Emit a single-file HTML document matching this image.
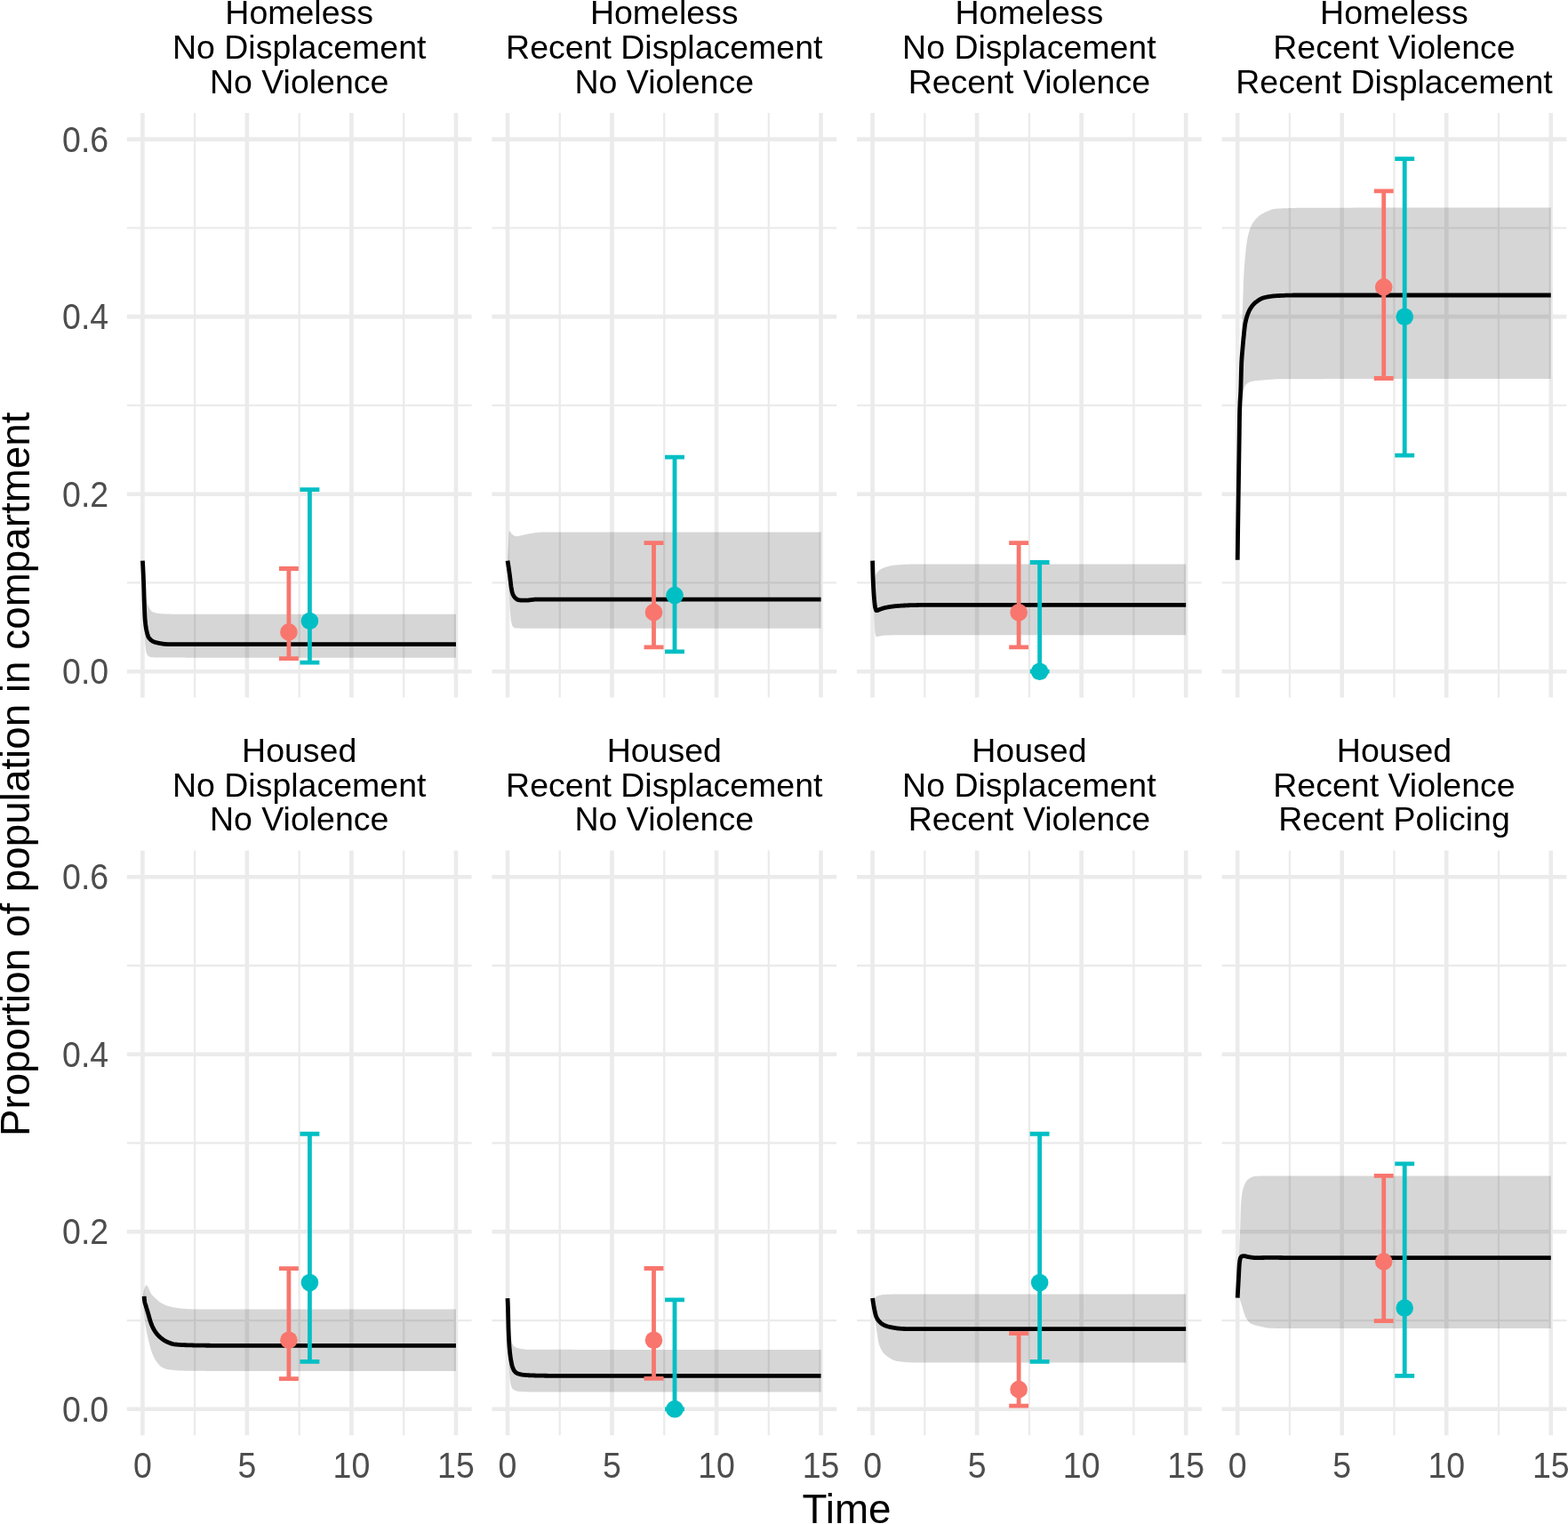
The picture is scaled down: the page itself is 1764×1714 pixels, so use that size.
<!DOCTYPE html>
<html><head><meta charset="utf-8"><style>
html,body{margin:0;padding:0;background:#fff;overflow:hidden;}
svg{display:block;}
text{font-family:"Liberation Sans",Arial,sans-serif;}
.s{font-size:37.5px;fill:#000;}
.a{font-size:37.5px;fill:#4D4D4D;}
.t{font-size:45.8px;fill:#000;}
</style></head><body>
<svg width="1764" height="1714" viewBox="0 0 1764 1714">
<rect x="0" y="0" width="1764" height="1714" fill="#ffffff"/>
<line x1="142.77" y1="655.44" x2="530.58" y2="655.44" stroke="#EBEBEB" stroke-width="2.3"/>
<line x1="142.77" y1="455.92" x2="530.58" y2="455.92" stroke="#EBEBEB" stroke-width="2.3"/>
<line x1="142.77" y1="256.4" x2="530.58" y2="256.4" stroke="#EBEBEB" stroke-width="2.3"/>
<line x1="219.16" y1="126.9" x2="219.16" y2="784.6" stroke="#EBEBEB" stroke-width="2.3"/>
<line x1="336.67" y1="126.9" x2="336.67" y2="784.6" stroke="#EBEBEB" stroke-width="2.3"/>
<line x1="454.19" y1="126.9" x2="454.19" y2="784.6" stroke="#EBEBEB" stroke-width="2.3"/>
<line x1="142.77" y1="755.2" x2="530.58" y2="755.2" stroke="#EBEBEB" stroke-width="4.6"/>
<line x1="142.77" y1="555.68" x2="530.58" y2="555.68" stroke="#EBEBEB" stroke-width="4.6"/>
<line x1="142.77" y1="356.16" x2="530.58" y2="356.16" stroke="#EBEBEB" stroke-width="4.6"/>
<line x1="142.77" y1="156.64" x2="530.58" y2="156.64" stroke="#EBEBEB" stroke-width="4.6"/>
<line x1="160.4" y1="126.9" x2="160.4" y2="784.6" stroke="#EBEBEB" stroke-width="4.6"/>
<line x1="277.92" y1="126.9" x2="277.92" y2="784.6" stroke="#EBEBEB" stroke-width="4.6"/>
<line x1="395.43" y1="126.9" x2="395.43" y2="784.6" stroke="#EBEBEB" stroke-width="4.6"/>
<line x1="512.95" y1="126.9" x2="512.95" y2="784.6" stroke="#EBEBEB" stroke-width="4.6"/>
<polygon points="160.4,630.6 160.65,633.73 160.9,636.82 161.16,639.89 161.41,642.92 161.6,645.2 161.66,645.92 161.91,648.93 162.09,651.1 162.16,651.93 162.42,654.88 162.67,657.72 162.9,660.2 162.92,660.42 163.17,663.14 163.43,665.87 163.68,668.4 163.79,669.41 163.93,670.51 164.1,671.6 164.18,672.04 164.43,673.31 164.69,674.5 164.94,675.59 165.19,676.6 165.44,677.52 165.48,677.67 165.69,678.37 165.95,679.16 166.2,679.87 166.45,680.53 166.7,681.14 166.95,681.7 167.18,682.16 167.2,682.2 167.21,682.21 167.46,682.71 167.71,683.19 167.96,683.66 168.22,684.11 168.47,684.55 168.72,684.97 168.87,685.23 168.97,685.38 169.22,685.77 169.48,686.13 169.73,686.47 169.98,686.79 170.23,687.08 170.48,687.35 170.57,687.43 170.74,687.58 170.99,687.79 171.24,687.97 171.49,688.11 171.7,688.2 171.74,688.22 172,688.31 172.25,688.4 172.26,688.41 172.5,688.49 172.75,688.58 173.01,688.67 173.26,688.75 173.51,688.83 173.76,688.91 173.96,688.97 174.01,688.98 174.27,689.05 174.52,689.12 174.77,689.19 175.02,689.26 175.27,689.32 175.53,689.38 175.65,689.41 175.78,689.44 176.03,689.5 176.28,689.56 176.53,689.61 176.79,689.66 177.04,689.71 177.29,689.75 177.35,689.76 177.54,689.8 177.79,689.84 178.05,689.88 178.3,689.92 178.55,689.96 178.8,689.99 179.04,690.03 179.06,690.03 179.31,690.06 179.56,690.09 179.81,690.12 180.06,690.14 180.32,690.17 180.57,690.19 180.74,690.2 180.82,690.21 181.07,690.23 181.32,690.25 181.58,690.26 181.83,690.28 182.08,690.29 182.3,690.3 182.33,690.3 182.43,690.31 182.58,690.31 182.84,690.32 183.09,690.33 183.34,690.34 183.59,690.35 183.85,690.36 184.1,690.37 184.13,690.38 184.35,690.38 184.6,690.39 184.85,690.4 185.11,690.41 185.36,690.42 185.58,690.43 185.61,690.43 185.82,690.44 185.86,690.44 186.11,690.45 186.37,690.46 186.62,690.47 186.87,690.48 187.12,690.49 187.37,690.5 187.52,690.5 187.63,690.5 187.88,690.51 188.13,690.52 188.38,690.53 188.64,690.54 188.89,690.54 189.14,690.55 189.21,690.55 189.39,690.56 189.64,690.57 189.9,690.57 190.15,690.58 190.4,690.59 190.91,690.6 192.6,690.65 194.3,690.68 195.99,690.72 197.69,690.74 199.38,690.77 201.08,690.78 202.77,690.79 204.47,690.8 205.4,690.8 206.16,690.8 207.86,690.8 209.55,690.8 210.76,690.8 211.25,690.8 212.94,690.8 214.64,690.8 216.33,690.8 218.03,690.8 219.72,690.8 221.42,690.8 223.11,690.8 224.81,690.8 226.5,690.8 228.2,690.8 229.89,690.8 231.59,690.8 233.28,690.8 234.98,690.8 235.95,690.8 236.67,690.8 238.37,690.8 240.06,690.8 241.76,690.8 243.45,690.8 245.15,690.8 246.84,690.8 248.54,690.8 250.23,690.8 251.93,690.8 253.62,690.8 255.32,690.8 257.01,690.8 258.71,690.8 260.4,690.8 261.13,690.8 286.31,690.8 311.49,690.8 336.68,690.8 361.86,690.8 387.04,690.8 412.22,690.8 437.4,690.8 462.59,690.8 487.77,690.8 512.95,690.8 512.95,739.7 487.77,739.7 462.59,739.7 437.4,739.7 412.22,739.7 387.04,739.69 361.86,739.69 336.68,739.68 311.49,739.68 286.31,739.67 261.13,739.66 260.4,739.66 258.71,739.66 257.01,739.65 255.32,739.65 253.62,739.65 251.93,739.65 250.23,739.65 248.54,739.65 246.84,739.65 245.15,739.65 243.45,739.65 241.76,739.65 240.06,739.65 238.37,739.64 236.67,739.64 235.95,739.64 234.98,739.64 233.28,739.64 231.59,739.64 229.89,739.64 228.2,739.64 226.5,739.64 224.81,739.64 223.11,739.64 221.42,739.63 219.72,739.63 218.03,739.63 216.33,739.63 214.64,739.63 212.94,739.63 211.25,739.63 210.76,739.63 209.55,739.63 207.86,739.62 206.16,739.62 204.47,739.62 202.77,739.62 201.08,739.62 199.38,739.62 197.69,739.62 195.99,739.62 194.3,739.61 192.6,739.61 190.91,739.61 190.4,739.61 190.15,739.61 189.9,739.61 189.64,739.61 189.39,739.61 189.21,739.61 189.14,739.61 188.89,739.61 188.64,739.61 188.38,739.61 188.13,739.61 187.88,739.61 187.63,739.61 187.52,739.61 187.37,739.61 187.12,739.61 186.87,739.61 186.62,739.61 186.37,739.61 186.11,739.61 185.86,739.61 185.82,739.61 185.61,739.61 185.58,739.61 185.36,739.61 185.11,739.61 184.85,739.61 184.6,739.61 184.35,739.61 184.13,739.61 184.1,739.61 183.85,739.61 183.59,739.61 183.34,739.61 183.09,739.61 182.84,739.61 182.58,739.61 182.43,739.61 182.33,739.61 182.08,739.6 181.83,739.6 181.58,739.6 181.32,739.6 181.07,739.6 180.82,739.6 180.74,739.6 180.57,739.6 180.32,739.6 180.06,739.6 179.81,739.6 179.56,739.6 179.31,739.6 179.06,739.6 179.04,739.6 178.8,739.6 178.55,739.6 178.3,739.6 178.05,739.6 177.79,739.6 177.54,739.6 177.35,739.6 177.29,739.6 177.04,739.6 176.79,739.6 176.53,739.6 176.4,739.6 176.28,739.6 176.03,739.6 175.78,739.59 175.65,739.59 175.53,739.59 175.27,739.58 175.02,739.57 174.77,739.56 174.52,739.55 174.27,739.54 174.01,739.52 173.96,739.52 173.76,739.5 173.51,739.48 173.26,739.46 173.01,739.44 172.75,739.42 172.5,739.39 172.26,739.36 172.25,739.36 172,739.33 171.74,739.3 171.49,739.27 171.24,739.23 170.99,739.19 170.74,739.15 170.57,739.13 170.48,739.11 170.23,739.07 169.98,739.02 169.73,738.98 169.48,738.93 169.22,738.88 168.97,738.83 168.87,738.81 168.72,738.77 168.47,738.72 168.4,738.7 168.22,738.65 167.96,738.56 167.71,738.43 167.46,738.27 167.21,738.09 167.18,738.06 166.95,737.87 166.7,737.61 166.45,737.33 166.2,737.01 165.95,736.65 165.69,736.26 165.48,735.91 165.44,735.83 165.19,735.37 165,735 164.94,734.87 164.69,734.15 164.43,733.14 164.18,731.8 163.93,730.13 163.79,729.06 163.68,728.11 163.43,725.7 163.17,722.89 163.1,722 162.92,718.34 162.67,709.94 162.42,700.76 162.4,700.2 162.16,692.25 162.09,689.83 161.91,683.39 161.66,674.4 161.41,665.49 161.4,665.2 161.16,656.73 160.9,648 160.65,639.29 160.4,630.6" fill="#333333" fill-opacity="0.2"/>
<polyline points="160.4,630.6 160.65,634.46 160.9,639.16 161.16,644.55 161.41,650.5 161.66,656.87 161.7,657.9 161.91,664.45 162.09,670.91 162.16,673.37 162.4,680.7 162.42,681.14 162.67,687.57 162.92,693.08 163.1,695.9 163.17,696.79 163.43,699.56 163.68,701.9 163.79,702.82 163.93,703.88 164.18,705.54 164.43,706.96 164.5,707.3 164.69,708.22 164.94,709.41 165.19,710.55 165.44,711.62 165.48,711.79 165.69,712.61 165.95,713.53 166.2,714.37 166.45,715.12 166.7,715.79 166.95,716.35 167.18,716.77 167.21,716.82 167.4,717.1 167.46,717.18 167.71,717.5 167.96,717.8 168.22,718.1 168.47,718.38 168.72,718.66 168.87,718.82 168.97,718.92 169.22,719.17 169.48,719.41 169.73,719.64 169.98,719.86 170.23,720.07 170.48,720.27 170.57,720.33 170.74,720.46 170.99,720.64 171.24,720.81 171.49,720.97 171.74,721.13 172,721.27 172.25,721.41 172.26,721.42 172.5,721.54 172.75,721.66 173.01,721.78 173.26,721.89 173.51,721.99 173.76,722.08 173.96,722.15 174.01,722.17 174.27,722.25 174.52,722.32 174.77,722.39 174.8,722.4 175.02,722.46 175.27,722.52 175.53,722.59 175.65,722.62 175.78,722.65 176.03,722.71 176.28,722.77 176.53,722.83 176.79,722.89 177.04,722.95 177.29,723.01 177.35,723.02 177.54,723.07 177.79,723.12 178.05,723.18 178.3,723.23 178.55,723.29 178.8,723.34 179.04,723.39 179.06,723.39 179.31,723.44 179.56,723.49 179.81,723.54 180.06,723.59 180.32,723.63 180.57,723.68 180.74,723.71 180.82,723.72 181.07,723.77 181.32,723.81 181.58,723.85 181.83,723.89 182.08,723.93 182.33,723.97 182.43,723.99 182.58,724.01 182.84,724.05 183.09,724.08 183.34,724.12 183.59,724.15 183.85,724.18 184.1,724.21 184.13,724.22 184.35,724.24 184.6,724.27 184.85,724.3 185.11,724.33 185.36,724.35 185.58,724.37 185.61,724.37 185.82,724.39 185.86,724.4 186.11,724.42 186.37,724.44 186.62,724.46 186.87,724.48 187.12,724.49 187.37,724.51 187.52,724.52 187.63,724.53 187.88,724.54 188.13,724.55 188.38,724.56 188.64,724.57 188.89,724.58 189.14,724.59 189.21,724.59 189.39,724.59 189.64,724.6 189.9,724.6 190,724.6 190.15,724.6 190.4,724.6 190.91,724.61 192.6,724.62 194.3,724.63 195.99,724.64 197.69,724.65 199.38,724.65 201.08,724.66 202.77,724.67 204.47,724.67 206.16,724.68 207.86,724.68 209.55,724.69 210.76,724.69 211.25,724.69 212.94,724.69 214.64,724.7 216.33,724.7 218.03,724.7 219.72,724.7 220.4,724.7 221.42,724.7 223.11,724.7 224.81,724.7 226.5,724.7 228.2,724.7 229.89,724.7 231.59,724.7 233.28,724.7 234.98,724.7 235.95,724.7 236.67,724.7 238.37,724.7 240.06,724.7 241.76,724.7 243.45,724.7 245.15,724.7 246.84,724.7 248.54,724.7 250.23,724.7 251.93,724.7 253.62,724.7 255.32,724.7 257.01,724.7 258.71,724.7 260.4,724.7 261.13,724.7 286.31,724.7 311.49,724.7 336.68,724.7 361.86,724.7 387.04,724.7 412.22,724.7 437.4,724.7 462.59,724.7 487.77,724.7 512.95,724.7" fill="none" stroke="#000" stroke-width="4.8" stroke-linejoin="round"/>
<path d="M313.97,639.48H335.87M324.92,639.48V740.64M313.97,740.64H335.87" stroke="#F8766D" stroke-width="4.8" fill="none"/>
<path d="M337.47,550.69H359.37M348.42,550.69V745.22M337.47,745.22H359.37" stroke="#00BFC4" stroke-width="4.8" fill="none"/>
<circle cx="324.92" cy="710.91" r="9.8" fill="#F8766D"/>
<circle cx="348.42" cy="698.44" r="9.8" fill="#00BFC4"/>
<line x1="553.37" y1="655.44" x2="941.18" y2="655.44" stroke="#EBEBEB" stroke-width="2.3"/>
<line x1="553.37" y1="455.92" x2="941.18" y2="455.92" stroke="#EBEBEB" stroke-width="2.3"/>
<line x1="553.37" y1="256.4" x2="941.18" y2="256.4" stroke="#EBEBEB" stroke-width="2.3"/>
<line x1="629.76" y1="126.9" x2="629.76" y2="784.6" stroke="#EBEBEB" stroke-width="2.3"/>
<line x1="747.27" y1="126.9" x2="747.27" y2="784.6" stroke="#EBEBEB" stroke-width="2.3"/>
<line x1="864.79" y1="126.9" x2="864.79" y2="784.6" stroke="#EBEBEB" stroke-width="2.3"/>
<line x1="553.37" y1="755.2" x2="941.18" y2="755.2" stroke="#EBEBEB" stroke-width="4.6"/>
<line x1="553.37" y1="555.68" x2="941.18" y2="555.68" stroke="#EBEBEB" stroke-width="4.6"/>
<line x1="553.37" y1="356.16" x2="941.18" y2="356.16" stroke="#EBEBEB" stroke-width="4.6"/>
<line x1="553.37" y1="156.64" x2="941.18" y2="156.64" stroke="#EBEBEB" stroke-width="4.6"/>
<line x1="571" y1="126.9" x2="571" y2="784.6" stroke="#EBEBEB" stroke-width="4.6"/>
<line x1="688.51" y1="126.9" x2="688.51" y2="784.6" stroke="#EBEBEB" stroke-width="4.6"/>
<line x1="806.03" y1="126.9" x2="806.03" y2="784.6" stroke="#EBEBEB" stroke-width="4.6"/>
<line x1="923.55" y1="126.9" x2="923.55" y2="784.6" stroke="#EBEBEB" stroke-width="4.6"/>
<polygon points="571,630.6 571.25,625.44 571.5,620.49 571.76,615.77 571.9,613.2 572.01,611.16 572.26,605.84 572.51,600.86 572.69,598.27 572.76,597.63 572.9,597.1 573.02,597.11 573.27,597.21 573.52,597.4 573.77,597.66 574.03,597.98 574.28,598.34 574.39,598.51 574.53,598.73 574.78,599.12 575.03,599.52 575.29,599.89 575.54,600.23 575.79,600.51 576,600.7 576.04,600.73 576.08,600.77 576.29,600.93 576.55,601.13 576.8,601.32 577.05,601.52 577.3,601.71 577.55,601.9 577.78,602.06 577.81,602.08 578.06,602.26 578.31,602.42 578.56,602.57 578.82,602.71 579.07,602.84 579.32,602.95 579.47,603.01 579.57,603.04 579.82,603.11 580.08,603.17 580.33,603.19 580.5,603.2 580.58,603.2 580.83,603.2 581.08,603.19 581.17,603.18 581.34,603.17 581.59,603.15 581.84,603.13 582.09,603.11 582.34,603.08 582.6,603.04 582.85,603 582.86,603 583.1,602.96 583.35,602.92 583.61,602.87 583.86,602.82 584.11,602.77 584.36,602.72 584.56,602.67 584.61,602.66 584.87,602.6 585.12,602.55 585.37,602.48 585.62,602.42 585.87,602.36 586.13,602.3 586.25,602.26 586.38,602.23 586.63,602.17 586.88,602.1 587.13,602.04 587.39,601.97 587.64,601.91 587.89,601.84 587.95,601.83 588.14,601.78 588.39,601.72 588.65,601.66 588.9,601.6 589.15,601.54 589.4,601.48 589.64,601.43 589.66,601.43 589.91,601.38 590.16,601.33 590.3,601.3 590.41,601.28 590.66,601.23 590.92,601.18 591.17,601.14 591.34,601.1 591.42,601.09 591.67,601.04 591.92,600.99 592.18,600.94 592.43,600.89 592.68,600.84 592.93,600.79 593.03,600.77 593.18,600.74 593.44,600.7 593.69,600.65 593.94,600.6 594.19,600.55 594.45,600.5 594.7,600.45 594.73,600.44 594.95,600.4 595.2,600.35 595.45,600.3 595.71,600.26 595.96,600.21 596.18,600.17 596.21,600.16 596.42,600.12 596.46,600.12 596.71,600.07 596.97,600.02 597.22,599.98 597.47,599.93 597.72,599.89 597.97,599.85 598.12,599.82 598.23,599.81 598.48,599.76 598.73,599.72 598.98,599.68 599.24,599.64 599.49,599.61 599.74,599.57 599.81,599.56 599.99,599.53 600.24,599.5 600.5,599.46 600.75,599.43 601,599.4 601.51,599.34 603.2,599.11 604.9,598.9 606.59,598.73 608.29,598.62 609.3,598.6 609.98,598.6 611.68,598.6 613.37,598.6 615.07,598.6 616.76,598.6 618.46,598.6 620.15,598.6 621.36,598.6 621.85,598.6 623.54,598.6 625.24,598.6 626.93,598.6 628.63,598.6 630.32,598.6 632.02,598.6 633.71,598.6 635.41,598.6 637.1,598.6 638.8,598.6 640.49,598.6 642.19,598.6 643.88,598.6 645.58,598.6 646.55,598.6 647.27,598.6 648.97,598.6 650.66,598.6 652.36,598.6 654.05,598.6 655.75,598.6 657.44,598.6 659.14,598.6 660.83,598.6 662.53,598.6 664.22,598.6 665.92,598.6 667.61,598.6 669.31,598.6 671,598.6 671.73,598.6 696.91,598.6 722.09,598.6 747.27,598.6 772.46,598.6 797.64,598.6 822.82,598.6 848,598.6 873.19,598.6 898.37,598.6 923.55,598.6 923.55,706.8 898.37,706.8 873.19,706.8 848,706.8 822.82,706.8 797.64,706.8 772.46,706.8 747.27,706.8 722.09,706.8 696.91,706.8 671.73,706.8 671,706.8 669.31,706.8 667.61,706.8 665.92,706.8 664.22,706.8 662.53,706.8 660.83,706.8 659.14,706.8 657.44,706.8 655.75,706.8 654.05,706.8 652.36,706.8 650.66,706.8 648.97,706.8 647.27,706.8 646.55,706.8 645.58,706.8 643.88,706.8 642.19,706.8 640.49,706.8 638.8,706.8 637.1,706.8 635.41,706.8 633.71,706.8 632.02,706.8 630.32,706.8 628.63,706.8 626.93,706.8 625.24,706.8 623.54,706.8 621.85,706.8 621.36,706.8 620.15,706.8 618.46,706.8 616.76,706.8 615.07,706.8 613.37,706.8 611.68,706.8 609.98,706.8 608.29,706.8 606.59,706.8 604.9,706.8 603.2,706.8 601.51,706.8 601,706.8 600.75,706.8 600.5,706.8 600.24,706.8 599.99,706.8 599.81,706.8 599.74,706.8 599.49,706.8 599.24,706.8 598.98,706.8 598.73,706.8 598.48,706.8 598.23,706.8 598.12,706.8 597.97,706.8 597.72,706.79 597.47,706.79 597.22,706.79 596.97,706.79 596.71,706.79 596.46,706.79 596.42,706.79 596.21,706.79 596.18,706.79 595.96,706.79 595.71,706.79 595.45,706.78 595.2,706.78 594.95,706.78 594.73,706.78 594.7,706.78 594.45,706.78 594.19,706.78 593.94,706.77 593.69,706.77 593.44,706.77 593.18,706.77 593.03,706.77 592.93,706.76 592.68,706.76 592.43,706.76 592.18,706.76 591.92,706.75 591.67,706.75 591.42,706.75 591.34,706.75 591.17,706.74 590.92,706.74 590.66,706.74 590.41,706.73 590.16,706.73 589.91,706.73 589.66,706.72 589.64,706.72 589.4,706.72 589.15,706.71 588.9,706.71 588.65,706.7 588.39,706.7 588.14,706.7 587.95,706.69 587.89,706.69 587.64,706.69 587.39,706.68 587.13,706.68 586.88,706.67 586.63,706.66 586.38,706.66 586.25,706.66 586.13,706.65 585.87,706.65 585.62,706.64 585.37,706.63 585.12,706.63 584.87,706.62 584.61,706.61 584.56,706.61 584.36,706.61 584.11,706.6 583.86,706.59 583.61,706.59 583.35,706.58 583.1,706.57 582.86,706.56 582.85,706.56 582.6,706.55 582.34,706.55 582.09,706.54 581.84,706.53 581.59,706.52 581.34,706.51 581.17,706.51 581.08,706.5 581,706.5 580.83,706.49 580.58,706.47 580.33,706.43 580.08,706.38 579.82,706.31 579.57,706.24 579.47,706.2 579.32,706.14 579.07,706.04 578.82,705.92 578.56,705.79 578.31,705.65 578.06,705.5 577.81,705.33 577.78,705.31 577.55,705.15 577.3,704.95 577.05,704.74 577,704.7 576.8,704.48 576.55,704.05 576.29,703.48 576.08,702.88 576.04,702.75 575.79,701.88 575.54,700.88 575.29,699.74 575.03,698.48 574.8,697.2 574.78,697.09 574.53,695.08 574.39,693.58 574.28,692.2 574.03,688.68 573.77,684.72 573.52,680.55 573.5,680.2 573.27,675.73 573.02,669.82 572.76,663.4 572.69,661.61 572.51,657.06 572.26,651.39 572.2,650.2 572.01,646.62 571.76,642.13 571.5,637.95 571.25,634.09 571,630.6" fill="#333333" fill-opacity="0.2"/>
<polyline points="571,630.6 571.25,632.09 571.5,633.62 571.76,635.2 572.01,636.82 572.26,638.48 572.51,640.18 572.69,641.43 572.76,641.91 573.02,643.68 573.27,645.48 573.3,645.7 573.52,647.38 573.77,649.46 574.03,651.64 574.28,653.84 574.39,654.81 574.53,655.98 574.78,657.99 575.03,659.78 575.2,660.8 575.29,661.29 575.54,662.67 575.79,663.96 576.04,665.14 576.08,665.32 576.29,666.17 576.55,667.04 576.6,667.2 576.8,667.76 577.05,668.4 577.3,668.98 577.55,669.5 577.78,669.91 577.81,669.96 578.06,670.38 578.2,670.6 578.31,670.76 578.56,671.12 578.82,671.46 579.07,671.77 579.32,672.06 579.47,672.24 579.57,672.34 579.82,672.59 580.08,672.83 580.33,673.06 580.5,673.2 580.58,673.27 580.83,673.47 581.08,673.68 581.17,673.74 581.34,673.87 581.59,674.06 581.84,674.22 582.09,674.37 582.34,674.49 582.6,674.57 582.7,674.6 582.85,674.63 582.86,674.63 583.1,674.68 583.35,674.73 583.61,674.78 583.86,674.82 584.11,674.86 584.36,674.9 584.56,674.93 584.61,674.93 584.87,674.97 585.12,674.99 585.37,675.02 585.62,675.04 585.87,675.06 586.13,675.08 586.25,675.08 586.38,675.09 586.63,675.1 586.88,675.1 587,675.1 587.13,675.1 587.39,675.1 587.64,675.1 587.89,675.1 587.95,675.1 588.14,675.1 588.39,675.1 588.65,675.1 588.9,675.1 589.15,675.1 589.4,675.1 589.64,675.1 589.66,675.1 589.91,675.1 590.16,675.1 590.41,675.1 590.66,675.1 590.92,675.1 591.17,675.1 591.34,675.1 591.42,675.1 591.67,675.1 591.92,675.1 592.18,675.1 592.43,675.1 592.68,675.1 592.93,675.1 593,675.1 593.03,675.1 593.18,675.1 593.44,675.09 593.69,675.08 593.94,675.07 594.19,675.05 594.45,675.03 594.7,675 594.73,675 594.95,674.98 595.2,674.95 595.45,674.92 595.71,674.89 595.96,674.85 596.18,674.82 596.21,674.82 596.42,674.79 596.46,674.79 596.71,674.75 596.97,674.72 597.22,674.69 597.47,674.66 597.72,674.63 597.97,674.6 598,674.6 598.12,674.59 598.23,674.58 598.48,674.55 598.73,674.52 598.98,674.49 599.24,674.45 599.49,674.42 599.74,674.39 599.81,674.38 599.99,674.35 600.24,674.32 600.5,674.29 600.75,674.26 601,674.23 601.51,674.18 603,674.1 603.2,674.1 604.9,674.1 606.59,674.1 608.29,674.1 609.98,674.1 611.68,674.1 613.37,674.1 615.07,674.1 616.76,674.1 618.46,674.1 620.15,674.1 621.36,674.1 621.85,674.1 623.54,674.1 625.24,674.1 626.93,674.1 628.63,674.1 630.32,674.1 632.02,674.1 633.71,674.1 635.41,674.1 637.1,674.1 638.8,674.1 640.49,674.1 642.19,674.1 643.88,674.1 645.58,674.1 646.55,674.1 647.27,674.1 648.97,674.1 650.66,674.1 652.36,674.1 654.05,674.1 655.75,674.1 657.44,674.1 659.14,674.1 660.83,674.1 662.53,674.1 664.22,674.1 665.92,674.1 667.61,674.1 669.31,674.1 671,674.1 671.73,674.1 696.91,674.1 722.09,674.1 747.27,674.1 772.46,674.1 797.64,674.1 822.82,674.1 848,674.1 873.19,674.1 898.37,674.1 923.55,674.1" fill="none" stroke="#000" stroke-width="4.8" stroke-linejoin="round"/>
<path d="M724.57,610.55H746.47M735.52,610.55V727.87M724.57,727.87H746.47" stroke="#F8766D" stroke-width="4.8" fill="none"/>
<path d="M748.07,514.08H769.97M759.02,514.08V732.85M748.07,732.85H769.97" stroke="#00BFC4" stroke-width="4.8" fill="none"/>
<circle cx="735.52" cy="688.66" r="9.8" fill="#F8766D"/>
<circle cx="759.02" cy="669.61" r="9.8" fill="#00BFC4"/>
<line x1="963.97" y1="655.44" x2="1351.78" y2="655.44" stroke="#EBEBEB" stroke-width="2.3"/>
<line x1="963.97" y1="455.92" x2="1351.78" y2="455.92" stroke="#EBEBEB" stroke-width="2.3"/>
<line x1="963.97" y1="256.4" x2="1351.78" y2="256.4" stroke="#EBEBEB" stroke-width="2.3"/>
<line x1="1040.36" y1="126.9" x2="1040.36" y2="784.6" stroke="#EBEBEB" stroke-width="2.3"/>
<line x1="1157.87" y1="126.9" x2="1157.87" y2="784.6" stroke="#EBEBEB" stroke-width="2.3"/>
<line x1="1275.39" y1="126.9" x2="1275.39" y2="784.6" stroke="#EBEBEB" stroke-width="2.3"/>
<line x1="963.97" y1="755.2" x2="1351.78" y2="755.2" stroke="#EBEBEB" stroke-width="4.6"/>
<line x1="963.97" y1="555.68" x2="1351.78" y2="555.68" stroke="#EBEBEB" stroke-width="4.6"/>
<line x1="963.97" y1="356.16" x2="1351.78" y2="356.16" stroke="#EBEBEB" stroke-width="4.6"/>
<line x1="963.97" y1="156.64" x2="1351.78" y2="156.64" stroke="#EBEBEB" stroke-width="4.6"/>
<line x1="981.6" y1="126.9" x2="981.6" y2="784.6" stroke="#EBEBEB" stroke-width="4.6"/>
<line x1="1099.12" y1="126.9" x2="1099.12" y2="784.6" stroke="#EBEBEB" stroke-width="4.6"/>
<line x1="1216.63" y1="126.9" x2="1216.63" y2="784.6" stroke="#EBEBEB" stroke-width="4.6"/>
<line x1="1334.14" y1="126.9" x2="1334.14" y2="784.6" stroke="#EBEBEB" stroke-width="4.6"/>
<polygon points="981.6,630.6 981.85,634.39 982.1,638.01 982.36,641.35 982.61,644.3 982.86,646.77 983.11,648.64 983.29,649.57 983.36,649.82 983.6,650.2 983.62,650.2 983.87,650.06 984.12,649.7 984.37,649.17 984.63,648.53 984.88,647.81 984.99,647.48 985.13,647.07 985.38,646.35 985.63,645.71 985.89,645.19 986,645 986.14,644.8 986.39,644.45 986.64,644.11 986.68,644.05 986.89,643.78 987.15,643.47 987.4,643.17 987.65,642.88 987.9,642.6 988.15,642.34 988.38,642.12 988.41,642.09 988.66,641.85 988.91,641.62 989.16,641.41 989.42,641.2 989.67,641.01 989.92,640.82 990.07,640.72 990.1,640.7 990.17,640.65 990.42,640.49 990.68,640.32 990.93,640.17 991.18,640.01 991.43,639.87 991.68,639.72 991.77,639.67 991.94,639.58 992.19,639.45 992.44,639.32 992.69,639.19 992.94,639.07 993.2,638.95 993.45,638.84 993.46,638.83 993.7,638.73 993.95,638.62 994.21,638.52 994.46,638.42 994.71,638.33 994.96,638.24 995.16,638.17 995.21,638.15 995.47,638.07 995.7,638 995.72,637.99 995.97,637.92 996.22,637.84 996.47,637.77 996.73,637.7 996.85,637.66 996.98,637.62 997.23,637.55 997.48,637.48 997.73,637.41 997.99,637.34 998.24,637.27 998.49,637.2 998.55,637.19 998.74,637.14 998.99,637.07 999.25,637.01 999.5,636.94 999.75,636.88 1000,636.82 1000.24,636.76 1000.26,636.75 1000.51,636.69 1000.76,636.64 1001.01,636.58 1001.26,636.52 1001.52,636.46 1001.77,636.41 1001.94,636.37 1002.02,636.35 1002.27,636.3 1002.52,636.25 1002.78,636.2 1003.03,636.15 1003.28,636.1 1003.53,636.05 1003.63,636.04 1003.78,636.01 1004.04,635.96 1004.29,635.92 1004.54,635.88 1004.79,635.84 1005.05,635.8 1005.3,635.76 1005.33,635.76 1005.55,635.72 1005.8,635.69 1006.05,635.66 1006.31,635.62 1006.56,635.59 1006.78,635.56 1006.81,635.56 1007.02,635.54 1007.06,635.53 1007.31,635.51 1007.57,635.48 1007.82,635.46 1008.07,635.43 1008.32,635.41 1008.5,635.4 1008.57,635.39 1008.72,635.38 1008.83,635.38 1009.08,635.36 1009.33,635.34 1009.58,635.32 1009.84,635.3 1010.09,635.28 1010.34,635.27 1010.41,635.26 1010.59,635.25 1010.84,635.23 1011.1,635.21 1011.35,635.2 1011.6,635.18 1012.11,635.14 1013.8,635.04 1015.5,634.94 1017.19,634.85 1018.89,634.77 1020.58,634.71 1022.28,634.66 1023.97,634.62 1025.67,634.6 1026.6,634.6 1027.36,634.6 1029.06,634.6 1030.75,634.59 1031.96,634.59 1032.45,634.59 1034.14,634.59 1035.84,634.58 1037.53,634.58 1039.23,634.58 1040.92,634.58 1042.62,634.57 1044.31,634.57 1046.01,634.57 1047.7,634.56 1049.4,634.56 1051.09,634.56 1052.79,634.56 1054.48,634.55 1056.18,634.55 1057.15,634.55 1057.87,634.55 1059.57,634.55 1061.26,634.54 1062.96,634.54 1064.65,634.54 1066.35,634.54 1068.04,634.53 1069.74,634.53 1071.43,634.53 1073.13,634.53 1074.82,634.53 1076.52,634.52 1078.21,634.52 1079.91,634.52 1081.6,634.52 1082.33,634.52 1107.51,634.49 1132.69,634.46 1157.88,634.44 1183.06,634.43 1208.24,634.42 1233.42,634.41 1258.6,634.41 1283.79,634.4 1308.97,634.4 1334.15,634.4 1334.15,714.3 1308.97,714.3 1283.79,714.3 1258.6,714.3 1233.42,714.3 1208.24,714.3 1183.06,714.3 1157.88,714.3 1132.69,714.3 1107.51,714.3 1082.33,714.3 1081.6,714.3 1079.91,714.3 1078.21,714.3 1076.52,714.3 1074.82,714.3 1073.13,714.3 1071.43,714.3 1069.74,714.3 1068.04,714.3 1066.35,714.3 1064.65,714.3 1062.96,714.3 1061.26,714.3 1059.57,714.3 1057.87,714.3 1057.15,714.3 1056.18,714.3 1054.48,714.3 1052.79,714.3 1051.09,714.3 1049.4,714.3 1047.7,714.3 1046.01,714.3 1044.31,714.3 1042.62,714.3 1040.92,714.3 1039.23,714.3 1037.53,714.3 1035.84,714.3 1034.14,714.3 1032.45,714.3 1031.96,714.3 1030.75,714.3 1029.06,714.3 1027.36,714.3 1025.67,714.3 1023.97,714.3 1022.28,714.3 1020.58,714.3 1018.89,714.3 1017.19,714.3 1015.5,714.3 1013.8,714.3 1012.11,714.3 1011.6,714.3 1011.35,714.3 1011.1,714.3 1010.84,714.3 1010.59,714.3 1010.41,714.3 1010.34,714.3 1010.09,714.3 1009.84,714.3 1009.58,714.3 1009.33,714.31 1009.08,714.31 1008.83,714.31 1008.72,714.31 1008.57,714.31 1008.32,714.31 1008.07,714.31 1007.82,714.32 1007.57,714.32 1007.31,714.32 1007.06,714.32 1007.02,714.33 1006.81,714.33 1006.78,714.33 1006.56,714.33 1006.31,714.33 1006.05,714.34 1005.8,714.34 1005.55,714.34 1005.33,714.35 1005.3,714.35 1005.05,714.35 1004.79,714.36 1004.54,714.36 1004.29,714.36 1004.04,714.37 1003.78,714.37 1003.63,714.38 1003.53,714.38 1003.28,714.38 1003.03,714.39 1002.78,714.39 1002.52,714.4 1002.27,714.4 1002.02,714.41 1001.94,714.41 1001.77,714.41 1001.52,714.42 1001.26,714.43 1001.01,714.43 1000.76,714.44 1000.51,714.45 1000.26,714.45 1000.24,714.45 1000,714.46 999.75,714.47 999.5,714.47 999.25,714.48 998.99,714.49 998.74,714.5 998.55,714.5 998.49,714.5 998.24,714.51 997.99,714.52 997.73,714.53 997.48,714.53 997.23,714.54 996.98,714.55 996.85,714.56 996.73,714.56 996.47,714.57 996.22,714.58 995.97,714.59 995.72,714.6 995.6,714.6 995.47,714.61 995.21,714.62 995.16,714.62 994.96,714.63 994.71,714.65 994.46,714.68 994.21,714.7 993.95,714.73 993.7,714.76 993.46,714.79 993.45,714.8 993.2,714.83 992.94,714.87 992.69,714.91 992.44,714.95 992.19,714.99 991.94,715.03 991.77,715.06 991.68,715.07 991.43,715.12 991.18,715.16 990.93,715.21 990.68,715.25 990.42,715.3 990.17,715.34 990.07,715.36 989.92,715.38 989.67,715.43 989.42,715.47 989.16,715.51 988.91,715.55 988.66,715.59 988.6,715.6 988.41,715.63 988.38,715.64 988.15,715.68 987.9,715.73 987.65,715.78 987.4,715.83 987.15,715.88 986.89,715.92 986.68,715.95 986.64,715.96 986.39,715.98 986.14,716 986,716 985.89,715.98 985.63,715.79 985.38,715.42 985.13,714.87 984.99,714.5 984.88,714.16 984.63,713.29 984.6,713.2 984.37,711.36 984.12,707.37 983.87,701.93 983.62,695.63 983.6,695.2 983.36,686.43 983.29,683.1 983.11,673.86 982.86,662.32 982.8,660.2 982.61,654.17 982.36,646.75 982.1,640.18 981.85,634.7 981.6,630.6" fill="#333333" fill-opacity="0.2"/>
<polyline points="981.6,630.6 981.85,640.89 982.1,649.53 982.2,652.1 982.36,655.72 982.61,660.84 982.86,665.2 983.11,668.9 983.29,671.24 983.3,671.3 983.36,672.08 983.62,675.04 983.87,677.77 984.12,680.14 984.37,682.02 984.6,683.2 984.63,683.3 984.88,684.26 984.99,684.67 985.13,685.13 985.38,685.86 985.63,686.39 985.89,686.67 986,686.7 986.14,686.7 986.39,686.67 986.64,686.62 986.68,686.61 986.89,686.56 987.15,686.47 987.4,686.38 987.65,686.27 987.9,686.15 988.15,686.03 988.38,685.93 988.41,685.91 988.66,685.79 988.91,685.68 989.16,685.57 989.42,685.47 989.6,685.4 989.67,685.38 989.92,685.29 990.07,685.24 990.17,685.21 990.42,685.12 990.68,685.03 990.93,684.94 991.18,684.86 991.43,684.77 991.68,684.68 991.77,684.65 991.94,684.59 992.19,684.51 992.44,684.42 992.69,684.34 992.94,684.26 993.2,684.18 993.45,684.1 993.46,684.09 993.7,684.02 993.95,683.94 994.21,683.87 994.46,683.8 994.71,683.73 994.96,683.67 995.16,683.62 995.21,683.61 995.47,683.55 995.7,683.5 995.72,683.5 995.97,683.44 996.22,683.39 996.47,683.34 996.73,683.29 996.85,683.26 996.98,683.24 997.23,683.19 997.48,683.14 997.73,683.09 997.99,683.04 998.24,683 998.49,682.95 998.55,682.94 998.74,682.9 998.99,682.86 999.25,682.81 999.5,682.77 999.75,682.72 1000,682.68 1000.24,682.64 1000.26,682.64 1000.51,682.59 1000.76,682.55 1001.01,682.51 1001.26,682.47 1001.52,682.43 1001.77,682.39 1001.94,682.37 1002.02,682.35 1002.27,682.32 1002.52,682.28 1002.78,682.24 1003.03,682.21 1003.28,682.17 1003.53,682.14 1003.63,682.12 1003.78,682.1 1004.04,682.07 1004.29,682.04 1004.54,682.01 1004.79,681.97 1005.05,681.94 1005.3,681.91 1005.33,681.91 1005.55,681.89 1005.8,681.86 1006.05,681.83 1006.31,681.8 1006.56,681.78 1006.78,681.75 1006.81,681.75 1007.02,681.73 1007.06,681.73 1007.31,681.7 1007.57,681.68 1007.82,681.66 1008.07,681.64 1008.32,681.61 1008.5,681.6 1008.57,681.59 1008.72,681.58 1008.83,681.57 1009.08,681.55 1009.33,681.53 1009.58,681.52 1009.84,681.5 1010.09,681.48 1010.34,681.46 1010.41,681.45 1010.59,681.44 1010.84,681.42 1011.1,681.4 1011.35,681.38 1011.6,681.37 1012.11,681.33 1013.8,681.22 1015.5,681.11 1017.19,681.01 1018.89,680.93 1020.58,680.85 1022.28,680.77 1023.97,680.71 1025.67,680.65 1027.36,680.61 1027.7,680.6 1029.06,680.57 1030.75,680.53 1031.96,680.5 1032.45,680.49 1034.14,680.45 1035.84,680.42 1037.53,680.39 1039.23,680.36 1040.92,680.34 1042.62,680.32 1044.31,680.31 1046.01,680.3 1047,680.3 1047.7,680.3 1049.4,680.3 1051.09,680.3 1052.79,680.3 1054.48,680.3 1056.18,680.3 1057.15,680.3 1057.87,680.3 1059.57,680.3 1061.26,680.3 1062.96,680.3 1064.65,680.3 1066.35,680.3 1068.04,680.3 1069.74,680.3 1071.43,680.3 1073.13,680.3 1074.82,680.3 1076.52,680.3 1078.21,680.3 1079.91,680.3 1081.6,680.3 1082.33,680.3 1107.51,680.3 1132.69,680.3 1157.88,680.3 1183.06,680.3 1208.24,680.3 1233.42,680.3 1258.6,680.3 1283.79,680.3 1308.97,680.3 1334.15,680.3" fill="none" stroke="#000" stroke-width="4.8" stroke-linejoin="round"/>
<path d="M1135.17,610.55H1157.07M1146.12,610.55V727.87M1135.17,727.87H1157.07" stroke="#F8766D" stroke-width="4.8" fill="none"/>
<path d="M1158.67,632.5H1180.57M1169.62,632.5V755.2M1158.67,755.2H1180.57" stroke="#00BFC4" stroke-width="4.8" fill="none"/>
<circle cx="1146.12" cy="688.76" r="9.8" fill="#F8766D"/>
<circle cx="1169.62" cy="755.2" r="9.8" fill="#00BFC4"/>
<line x1="1374.57" y1="655.44" x2="1762.38" y2="655.44" stroke="#EBEBEB" stroke-width="2.3"/>
<line x1="1374.57" y1="455.92" x2="1762.38" y2="455.92" stroke="#EBEBEB" stroke-width="2.3"/>
<line x1="1374.57" y1="256.4" x2="1762.38" y2="256.4" stroke="#EBEBEB" stroke-width="2.3"/>
<line x1="1450.96" y1="126.9" x2="1450.96" y2="784.6" stroke="#EBEBEB" stroke-width="2.3"/>
<line x1="1568.47" y1="126.9" x2="1568.47" y2="784.6" stroke="#EBEBEB" stroke-width="2.3"/>
<line x1="1685.99" y1="126.9" x2="1685.99" y2="784.6" stroke="#EBEBEB" stroke-width="2.3"/>
<line x1="1374.57" y1="755.2" x2="1762.38" y2="755.2" stroke="#EBEBEB" stroke-width="4.6"/>
<line x1="1374.57" y1="555.68" x2="1762.38" y2="555.68" stroke="#EBEBEB" stroke-width="4.6"/>
<line x1="1374.57" y1="356.16" x2="1762.38" y2="356.16" stroke="#EBEBEB" stroke-width="4.6"/>
<line x1="1374.57" y1="156.64" x2="1762.38" y2="156.64" stroke="#EBEBEB" stroke-width="4.6"/>
<line x1="1392.2" y1="126.9" x2="1392.2" y2="784.6" stroke="#EBEBEB" stroke-width="4.6"/>
<line x1="1509.72" y1="126.9" x2="1509.72" y2="784.6" stroke="#EBEBEB" stroke-width="4.6"/>
<line x1="1627.23" y1="126.9" x2="1627.23" y2="784.6" stroke="#EBEBEB" stroke-width="4.6"/>
<line x1="1744.75" y1="126.9" x2="1744.75" y2="784.6" stroke="#EBEBEB" stroke-width="4.6"/>
<polygon points="1392.2,629.7 1392.45,610.29 1392.7,591.26 1392.96,572.67 1393.2,555.2 1393.21,554.61 1393.46,536.51 1393.71,518.22 1393.89,505.2 1393.96,500.31 1394.22,483.29 1394.47,467.73 1394.7,455.2 1394.72,454.15 1394.97,442.12 1395.23,431.02 1395.48,420.76 1395.59,416.42 1395.73,411.24 1395.98,402.4 1396.2,395.2 1396.23,394.13 1396.49,386.61 1396.74,379.76 1396.99,373.29 1397.24,366.92 1397.28,365.83 1397.49,360.36 1397.5,360.2 1397.75,353.29 1398,345.76 1398.25,338.01 1398.5,330.33 1398.75,322.98 1398.98,316.91 1399.01,316.23 1399.26,310.33 1399.51,305.56 1399.6,304.2 1399.76,301.91 1400.02,298.5 1400.27,295.27 1400.52,292.2 1400.67,290.39 1400.77,289.29 1401.02,286.55 1401.28,283.97 1401.53,281.54 1401.78,279.26 1402.03,277.14 1402.28,275.16 1402.37,274.52 1402.54,273.32 1402.79,271.63 1403.04,270.08 1403.29,268.66 1403.54,267.37 1403.8,266.21 1403.8,266.2 1404.05,265.14 1404.06,265.08 1404.3,264.12 1404.55,263.13 1404.81,262.19 1405.06,261.28 1405.31,260.42 1405.56,259.59 1405.76,258.96 1405.81,258.79 1406.07,258.04 1406.32,257.31 1406.57,256.62 1406.82,255.96 1407.07,255.34 1407.33,254.74 1407.45,254.45 1407.58,254.17 1407.83,253.63 1408.08,253.11 1408.33,252.62 1408.59,252.15 1408.84,251.71 1409.09,251.29 1409.15,251.19 1409.34,250.89 1409.4,250.8 1409.59,250.5 1409.85,250.13 1410.1,249.76 1410.35,249.4 1410.6,249.05 1410.84,248.72 1410.86,248.7 1411.11,248.37 1411.36,248.04 1411.61,247.72 1411.86,247.4 1412.12,247.09 1412.37,246.79 1412.54,246.59 1412.62,246.5 1412.87,246.22 1413.12,245.94 1413.38,245.66 1413.63,245.4 1413.88,245.14 1414.13,244.88 1414.23,244.78 1414.38,244.64 1414.64,244.4 1414.89,244.16 1415.14,243.93 1415.39,243.71 1415.65,243.49 1415.9,243.28 1415.93,243.26 1416.15,243.08 1416.4,242.88 1416.65,242.68 1416.91,242.49 1417.16,242.31 1417.38,242.15 1417.41,242.13 1417.62,241.98 1417.66,241.96 1417.91,241.79 1418.17,241.62 1418.42,241.47 1418.67,241.31 1418.92,241.16 1419.17,241.01 1419.2,241 1419.32,240.93 1419.43,240.87 1419.68,240.73 1419.93,240.59 1420.18,240.45 1420.44,240.31 1420.69,240.17 1420.94,240.03 1421.01,239.99 1421.19,239.89 1421.44,239.75 1421.7,239.61 1421.95,239.48 1422.2,239.34 1422.71,239.08 1424.4,238.22 1426.1,237.42 1427.79,236.7 1429.49,236.07 1431.18,235.54 1432.88,235.12 1434.57,234.83 1436,234.7 1436.27,234.68 1437.96,234.59 1439.66,234.5 1441.35,234.42 1442.56,234.36 1443.05,234.34 1444.74,234.27 1446.44,234.2 1448.13,234.13 1449.83,234.08 1451.52,234.02 1453.22,233.97 1454.91,233.93 1456.61,233.89 1458.3,233.85 1460,233.82 1461.69,233.79 1463.39,233.77 1465.08,233.74 1466.78,233.73 1467.75,233.72 1468.47,233.72 1470.17,233.71 1471.86,233.7 1472.2,233.7 1473.56,233.7 1475.25,233.69 1476.95,233.69 1478.64,233.69 1480.34,233.69 1482.03,233.68 1483.73,233.68 1485.42,233.68 1487.12,233.67 1488.81,233.67 1490.51,233.67 1492.2,233.66 1492.93,233.66 1518.11,233.63 1543.29,233.59 1568.48,233.57 1593.66,233.55 1618.84,233.53 1644.02,233.52 1669.2,233.51 1694.39,233.5 1719.57,233.5 1744.75,233.5 1744.75,426 1719.57,426 1694.39,426 1669.2,426.01 1644.02,426.01 1618.84,426.02 1593.66,426.03 1568.48,426.05 1543.29,426.07 1518.11,426.09 1492.93,426.12 1492.2,426.12 1490.51,426.12 1488.81,426.13 1487.12,426.13 1485.42,426.13 1483.73,426.13 1482.03,426.14 1480.34,426.14 1478.64,426.14 1476.95,426.14 1475.25,426.15 1473.56,426.15 1471.86,426.15 1470.17,426.15 1468.47,426.16 1467.75,426.16 1466.78,426.16 1465.08,426.16 1463.39,426.16 1461.69,426.17 1460,426.17 1458.3,426.17 1456.61,426.17 1454.91,426.18 1453.22,426.18 1451.52,426.18 1449.83,426.19 1448.13,426.19 1446.44,426.19 1444.74,426.2 1443.05,426.2 1442.56,426.2 1442.2,426.2 1441.35,426.2 1439.66,426.23 1437.96,426.28 1436.27,426.35 1434.57,426.44 1432.88,426.55 1431.18,426.66 1429.49,426.79 1427.79,426.93 1426.1,427.07 1424.4,427.22 1422.71,427.37 1422.2,427.41 1421.95,427.43 1421.7,427.45 1421.44,427.48 1421.19,427.5 1421.01,427.51 1420.94,427.52 1420.69,427.54 1420.44,427.56 1420.18,427.58 1420,427.6 1419.93,427.61 1419.68,427.63 1419.43,427.65 1419.32,427.66 1419.17,427.67 1418.92,427.69 1418.67,427.71 1418.42,427.73 1418.17,427.75 1417.91,427.77 1417.66,427.79 1417.62,427.79 1417.41,427.81 1417.38,427.81 1417.16,427.83 1416.91,427.85 1416.65,427.88 1416.4,427.9 1416.15,427.92 1415.93,427.94 1415.9,427.94 1415.65,427.96 1415.39,427.99 1415.14,428.01 1414.89,428.03 1414.64,428.06 1414.38,428.08 1414.23,428.1 1414.13,428.11 1413.88,428.13 1413.63,428.16 1413.38,428.19 1413.12,428.22 1412.87,428.24 1412.62,428.27 1412.54,428.28 1412.37,428.31 1412.12,428.34 1411.86,428.37 1411.61,428.4 1411.36,428.44 1411.11,428.47 1410.86,428.51 1410.84,428.51 1410.6,428.55 1410.35,428.59 1410.1,428.63 1409.85,428.67 1409.59,428.71 1409.34,428.76 1409.15,428.79 1409.09,428.81 1408.84,428.85 1408.59,428.9 1408.33,428.95 1408.1,429 1408.08,429 1407.83,429.06 1407.58,429.12 1407.45,429.15 1407.33,429.19 1407.07,429.26 1406.82,429.34 1406.57,429.42 1406.32,429.51 1406.07,429.61 1405.81,429.71 1405.76,429.73 1405.56,429.82 1405.31,429.94 1405.06,430.06 1404.81,430.2 1404.55,430.34 1404.3,430.49 1404.06,430.64 1404.05,430.65 1403.8,430.81 1403.54,430.99 1403.29,431.17 1403.04,431.37 1402.79,431.57 1402.54,431.78 1402.37,431.93 1402.28,432.01 1402.03,432.24 1401.78,432.49 1401.53,432.74 1401.28,433.01 1401.1,433.2 1401.02,433.29 1400.77,433.67 1400.67,433.84 1400.52,434.15 1400.27,434.74 1400.02,435.42 1399.76,436.18 1399.51,437.02 1399.26,437.92 1399.01,438.87 1398.98,438.98 1398.75,439.88 1398.5,440.92 1398.25,441.98 1398.2,442.2 1398,443.1 1397.75,444.31 1397.49,445.64 1397.28,446.86 1397.24,447.12 1396.99,448.77 1396.74,450.59 1396.49,452.63 1396.23,454.88 1396.2,455.2 1395.98,457.45 1395.73,460.5 1395.59,462.44 1395.48,464.14 1395.23,468.48 1394.97,473.62 1394.72,479.65 1394.7,480.2 1394.47,488.54 1394.22,501.83 1393.96,517.86 1393.89,522.57 1393.71,534.98 1393.46,551.51 1393.4,555.2 1393.21,566.74 1392.96,582.13 1392.7,597.76 1392.45,613.62 1392.2,629.7" fill="#333333" fill-opacity="0.2"/>
<polyline points="1392.2,629.7 1392.45,611.15 1392.7,592.97 1392.96,575.16 1393.1,565.2 1393.21,557.81 1393.46,541.11 1393.71,524.7 1393.89,512.75 1393.96,508.12 1394.1,499 1394.22,490.23 1394.47,470.78 1394.6,464 1394.72,460.04 1394.97,453.7 1395.23,449.02 1395.48,444.87 1395.59,442.89 1395.73,440.12 1395.9,436 1395.98,433.55 1396.23,423.99 1396.49,414.09 1396.7,408 1396.74,407.26 1396.99,403.01 1397.24,399.63 1397.28,399.11 1397.49,396.71 1397.75,393.84 1397.8,393.2 1398,390.83 1398.25,387.93 1398.5,385.14 1398.75,382.47 1398.98,380.2 1399,380 1399.01,379.93 1399.26,377.42 1399.51,374.89 1399.76,372.4 1400.02,370.04 1400.27,367.86 1400.52,365.95 1400.67,364.92 1400.77,364.36 1400.8,364.2 1401.02,363.03 1401.28,361.8 1401.53,360.66 1401.78,359.6 1402.03,358.6 1402.28,357.67 1402.37,357.37 1402.54,356.81 1402.79,355.99 1403.04,355.22 1403.29,354.49 1403.54,353.78 1403.8,353.11 1403.8,353.1 1404.05,352.46 1404.06,352.42 1404.3,351.83 1404.55,351.23 1404.81,350.65 1405.06,350.09 1405.31,349.56 1405.56,349.05 1405.76,348.66 1405.81,348.55 1406.07,348.08 1406.32,347.63 1406.57,347.2 1406.82,346.79 1407.07,346.39 1407.2,346.2 1407.33,346.01 1407.45,345.82 1407.58,345.64 1407.83,345.28 1408.08,344.92 1408.33,344.58 1408.59,344.24 1408.84,343.91 1409.09,343.59 1409.15,343.52 1409.34,343.28 1409.59,342.98 1409.85,342.69 1410.1,342.4 1410.35,342.13 1410.6,341.86 1410.84,341.62 1410.86,341.61 1411.11,341.36 1411.36,341.12 1411.61,340.89 1411.86,340.68 1412.12,340.47 1412.2,340.4 1412.37,340.27 1412.54,340.13 1412.62,340.07 1412.87,339.87 1413.12,339.68 1413.38,339.48 1413.63,339.29 1413.88,339.1 1414.13,338.92 1414.23,338.84 1414.38,338.73 1414.64,338.55 1414.89,338.37 1415.14,338.2 1415.39,338.02 1415.65,337.85 1415.9,337.68 1415.93,337.66 1416.15,337.52 1416.4,337.36 1416.65,337.2 1416.91,337.04 1417.16,336.89 1417.38,336.76 1417.41,336.75 1417.62,336.62 1417.66,336.6 1417.91,336.46 1418.17,336.32 1418.42,336.19 1418.67,336.06 1418.92,335.94 1419.17,335.82 1419.32,335.75 1419.43,335.7 1419.68,335.59 1419.93,335.49 1420.18,335.38 1420.44,335.29 1420.69,335.2 1420.94,335.11 1421.01,335.08 1421.19,335.03 1421.44,334.95 1421.7,334.88 1421.95,334.81 1422,334.8 1422.2,334.75 1422.71,334.63 1424.4,334.25 1426.1,333.91 1427.79,333.61 1429.49,333.34 1431.18,333.12 1432.88,332.94 1434.57,332.79 1436,332.7 1436.27,332.69 1437.96,332.6 1439.66,332.51 1441.35,332.43 1442.56,332.38 1443.05,332.36 1444.74,332.29 1446.44,332.22 1448.13,332.17 1449.83,332.12 1451.52,332.08 1453.22,332.04 1454.91,332.02 1456.61,332.01 1458.3,332 1458.4,332 1460,332 1461.69,332 1463.39,332 1465.08,332 1466.78,332 1467.75,332 1468.47,332 1470.17,332 1471.86,332 1473.56,332 1475.25,332 1476.95,332 1478.64,332 1480.34,332 1482.03,332 1483.73,332 1485.42,332 1487.12,332 1488.81,332 1490.51,332 1492.2,332 1492.93,332 1518.11,332 1543.29,332 1568.48,332 1593.66,332 1618.84,332 1644.02,332 1669.2,332 1694.39,332 1719.57,332 1744.75,332" fill="none" stroke="#000" stroke-width="4.8" stroke-linejoin="round"/>
<path d="M1545.77,214.8H1567.67M1556.72,214.8V425.49M1545.77,425.49H1567.67" stroke="#F8766D" stroke-width="4.8" fill="none"/>
<path d="M1569.27,178.59H1591.17M1580.22,178.59V512.08M1569.27,512.08H1591.17" stroke="#00BFC4" stroke-width="4.8" fill="none"/>
<circle cx="1556.72" cy="322.84" r="9.8" fill="#F8766D"/>
<circle cx="1580.22" cy="356.26" r="9.8" fill="#00BFC4"/>
<line x1="142.77" y1="1485.04" x2="530.58" y2="1485.04" stroke="#EBEBEB" stroke-width="2.3"/>
<line x1="142.77" y1="1285.52" x2="530.58" y2="1285.52" stroke="#EBEBEB" stroke-width="2.3"/>
<line x1="142.77" y1="1086" x2="530.58" y2="1086" stroke="#EBEBEB" stroke-width="2.3"/>
<line x1="219.16" y1="956.5" x2="219.16" y2="1614.2" stroke="#EBEBEB" stroke-width="2.3"/>
<line x1="336.67" y1="956.5" x2="336.67" y2="1614.2" stroke="#EBEBEB" stroke-width="2.3"/>
<line x1="454.19" y1="956.5" x2="454.19" y2="1614.2" stroke="#EBEBEB" stroke-width="2.3"/>
<line x1="142.77" y1="1584.8" x2="530.58" y2="1584.8" stroke="#EBEBEB" stroke-width="4.6"/>
<line x1="142.77" y1="1385.28" x2="530.58" y2="1385.28" stroke="#EBEBEB" stroke-width="4.6"/>
<line x1="142.77" y1="1185.76" x2="530.58" y2="1185.76" stroke="#EBEBEB" stroke-width="4.6"/>
<line x1="142.77" y1="986.24" x2="530.58" y2="986.24" stroke="#EBEBEB" stroke-width="4.6"/>
<line x1="160.4" y1="956.5" x2="160.4" y2="1614.2" stroke="#EBEBEB" stroke-width="4.6"/>
<line x1="277.92" y1="956.5" x2="277.92" y2="1614.2" stroke="#EBEBEB" stroke-width="4.6"/>
<line x1="395.43" y1="956.5" x2="395.43" y2="1614.2" stroke="#EBEBEB" stroke-width="4.6"/>
<line x1="512.95" y1="956.5" x2="512.95" y2="1614.2" stroke="#EBEBEB" stroke-width="4.6"/>
<polygon points="160.75,1457 161,1455.38 161.25,1453.82 161.51,1452.42 161.76,1451.28 161.9,1450.8 162.01,1450.48 162.26,1449.76 162.44,1449.27 162.51,1449.06 162.77,1448.41 163.02,1447.8 163.27,1447.25 163.52,1446.75 163.78,1446.33 164.03,1445.98 164.13,1445.87 164.28,1445.73 164.53,1445.56 164.78,1445.5 164.8,1445.5 165.04,1445.54 165.29,1445.68 165.54,1445.89 165.79,1446.19 165.82,1446.22 166.04,1446.55 166.3,1446.97 166.55,1447.44 166.8,1447.96 167.05,1448.51 167.3,1449.09 167.51,1449.57 167.56,1449.69 167.81,1450.31 168.06,1450.92 168.31,1451.54 168.57,1452.14 168.82,1452.72 169.07,1453.28 169.19,1453.54 169.32,1453.8 169.57,1454.28 169.83,1454.7 170.08,1455.07 170.1,1455.1 170.33,1455.4 170.58,1455.71 170.83,1456.02 170.88,1456.08 171.09,1456.32 171.34,1456.61 171.59,1456.89 171.84,1457.17 172.09,1457.43 172.35,1457.7 172.57,1457.93 172.6,1457.96 172.85,1458.21 173.1,1458.45 173.36,1458.7 173.61,1458.94 173.86,1459.17 174.11,1459.4 174.26,1459.54 174.36,1459.63 174.62,1459.86 174.87,1460.09 175.12,1460.31 175.37,1460.53 175.62,1460.76 175.88,1460.98 175.95,1461.04 176.13,1461.2 176.38,1461.42 176.63,1461.65 176.8,1461.8 176.88,1461.88 177.14,1462.11 177.39,1462.34 177.64,1462.57 177.64,1462.57 177.89,1462.8 178.14,1463.03 178.4,1463.26 178.65,1463.48 178.9,1463.7 179.15,1463.92 179.33,1464.07 179.41,1464.13 179.66,1464.33 179.91,1464.53 180.16,1464.72 180.41,1464.89 180.67,1465.06 180.9,1465.2 180.92,1465.21 181.02,1465.27 181.17,1465.36 181.42,1465.5 181.67,1465.64 181.93,1465.79 182.18,1465.92 182.43,1466.06 182.68,1466.19 182.71,1466.21 182.93,1466.33 183.19,1466.46 183.44,1466.58 183.69,1466.71 183.94,1466.83 184.2,1466.95 184.4,1467.05 184.45,1467.07 184.7,1467.19 184.95,1467.3 185.2,1467.41 185.46,1467.52 185.71,1467.63 185.91,1467.72 185.96,1467.74 186.08,1467.79 186.21,1467.84 186.46,1467.94 186.72,1468.04 186.97,1468.14 187.22,1468.23 187.47,1468.32 187.72,1468.41 187.77,1468.43 187.98,1468.5 188.23,1468.59 188.48,1468.67 188.73,1468.75 188.99,1468.83 189.24,1468.9 189.46,1468.97 189.49,1468.98 189.74,1469.05 189.99,1469.12 190.25,1469.19 190.3,1469.2 190.5,1469.25 190.75,1469.32 191.15,1469.42 192.84,1469.82 194.53,1470.2 196.22,1470.54 197.91,1470.84 199.6,1471.11 201.29,1471.34 202.97,1471.53 203.7,1471.6 204.66,1471.69 206.35,1471.83 208.04,1471.97 209.73,1472.09 211.06,1472.18 211.42,1472.2 213.11,1472.29 214.8,1472.35 216.49,1472.39 217.1,1472.4 218.18,1472.41 219.86,1472.42 221.55,1472.43 223.24,1472.45 224.93,1472.46 226.62,1472.47 228.31,1472.47 230,1472.48 231.69,1472.49 233.38,1472.49 235.07,1472.49 236.22,1472.5 236.75,1472.5 238.44,1472.5 240.13,1472.5 240.4,1472.5 241.82,1472.5 243.51,1472.5 245.2,1472.5 246.89,1472.5 248.58,1472.5 250.27,1472.5 251.96,1472.5 253.64,1472.5 255.33,1472.5 257.02,1472.5 258.71,1472.5 260.4,1472.5 261.38,1472.5 286.54,1472.5 311.69,1472.5 336.85,1472.5 362.01,1472.5 387.16,1472.5 412.32,1472.5 437.48,1472.5 462.64,1472.5 487.79,1472.5 512.95,1472.5 512.95,1541.9 487.79,1541.9 462.64,1541.9 437.48,1541.9 412.32,1541.9 387.16,1541.9 362.01,1541.9 336.85,1541.9 311.69,1541.9 286.54,1541.9 261.38,1541.9 260.4,1541.9 258.71,1541.9 257.02,1541.9 255.33,1541.9 253.64,1541.9 251.96,1541.9 250.27,1541.9 248.58,1541.9 246.89,1541.9 245.2,1541.9 243.51,1541.9 241.82,1541.9 240.4,1541.9 240.13,1541.9 238.44,1541.9 236.75,1541.9 236.22,1541.9 235.07,1541.89 233.38,1541.89 231.69,1541.88 230,1541.87 228.31,1541.87 226.62,1541.86 224.93,1541.84 223.24,1541.83 221.55,1541.82 219.86,1541.8 218.18,1541.79 216.49,1541.77 214.8,1541.75 213.11,1541.73 211.42,1541.71 211.06,1541.71 210.4,1541.7 209.73,1541.69 208.04,1541.66 206.35,1541.61 204.66,1541.55 202.97,1541.47 201.29,1541.38 199.6,1541.27 197.91,1541.15 196.22,1541.01 194.53,1540.86 192.84,1540.69 191.15,1540.5 190.75,1540.45 190.5,1540.42 190.3,1540.4 190.25,1540.39 189.99,1540.36 189.74,1540.32 189.49,1540.28 189.46,1540.28 189.24,1540.24 188.99,1540.19 188.73,1540.14 188.48,1540.09 188.23,1540.03 187.98,1539.97 187.77,1539.91 187.72,1539.9 187.47,1539.83 187.22,1539.76 186.97,1539.68 186.72,1539.61 186.46,1539.52 186.21,1539.44 186.08,1539.4 185.96,1539.35 185.91,1539.33 185.71,1539.26 185.46,1539.17 185.2,1539.07 184.95,1538.97 184.7,1538.87 184.45,1538.76 184.4,1538.74 184.2,1538.65 183.94,1538.54 183.69,1538.43 183.44,1538.31 183.19,1538.19 182.93,1538.07 182.71,1537.96 182.68,1537.95 182.43,1537.82 182.2,1537.7 182.18,1537.69 181.93,1537.55 181.67,1537.39 181.42,1537.22 181.17,1537.04 181.02,1536.92 180.92,1536.84 180.67,1536.63 180.41,1536.41 180.16,1536.17 179.91,1535.93 179.66,1535.67 179.41,1535.41 179.33,1535.32 179.15,1535.13 178.9,1534.85 178.65,1534.56 178.4,1534.27 178.14,1533.97 177.89,1533.66 177.64,1533.35 177.64,1533.35 177.39,1533.04 177.14,1532.73 176.88,1532.41 176.8,1532.3 176.63,1532.08 176.38,1531.75 176.13,1531.4 175.95,1531.14 175.88,1531.03 175.62,1530.65 175.37,1530.26 175.12,1529.86 174.87,1529.44 174.62,1529.01 174.36,1528.57 174.26,1528.39 174.11,1528.12 173.86,1527.66 173.61,1527.19 173.36,1526.7 173.1,1526.21 172.85,1525.7 172.8,1525.6 172.6,1525.19 172.57,1525.13 172.35,1524.65 172.09,1524.09 171.84,1523.52 171.59,1522.92 171.34,1522.3 171.09,1521.65 170.88,1521.12 170.83,1520.98 170.58,1520.29 170.33,1519.58 170.1,1518.9 170.08,1518.83 169.83,1518.05 169.57,1517.21 169.32,1516.32 169.19,1515.86 169.07,1515.4 168.82,1514.44 168.57,1513.46 168.31,1512.46 168.06,1511.45 167.81,1510.44 167.56,1509.42 167.51,1509.22 167.4,1508.8 167.3,1508.42 167.05,1507.42 166.8,1506.42 166.55,1505.39 166.3,1504.33 166.04,1503.23 165.82,1502.18 165.8,1502.1 165.79,1502.06 165.54,1500.86 165.29,1499.64 165.04,1498.38 164.78,1497.09 164.53,1495.74 164.28,1494.32 164.13,1493.43 164.03,1492.82 163.78,1491.24 163.52,1489.56 163.4,1488.7 163.27,1487.74 163.02,1485.67 162.77,1483.38 162.51,1480.94 162.44,1480.19 162.26,1478.42 162.01,1475.89 161.9,1474.8 161.76,1473.39 161.51,1470.84 161.25,1468.22 161,1465.53 160.75,1462.8" fill="#333333" fill-opacity="0.2"/>
<polyline points="162.2,1457.9 162.4,1461.8 162.45,1462.21 162.7,1463.86 162.96,1465.06 163.21,1465.96 163.46,1466.69 163.71,1467.38 163.86,1467.84 163.96,1468.17 164,1468.3 164.22,1469.08 164.47,1469.96 164.72,1470.81 164.97,1471.64 165.23,1472.46 165.48,1473.27 165.53,1473.43 165.73,1474.08 165.98,1474.91 166.1,1475.3 166.23,1475.75 166.49,1476.61 166.74,1477.5 166.99,1478.39 167.19,1479.12 167.24,1479.29 167.49,1480.2 167.75,1481.11 168,1482.01 168.25,1482.9 168.5,1483.77 168.75,1484.63 168.86,1484.98 169.01,1485.47 169.26,1486.27 169.51,1487.05 169.76,1487.78 170.02,1488.48 170.1,1488.7 170.27,1489.13 170.52,1489.77 170.52,1489.78 170.77,1490.39 171.02,1490.99 171.28,1491.57 171.53,1492.14 171.78,1492.69 172.03,1493.21 172.19,1493.53 172.28,1493.72 172.54,1494.21 172.79,1494.68 173.04,1495.13 173.2,1495.4 173.29,1495.56 173.54,1495.97 173.8,1496.38 173.85,1496.47 174.05,1496.78 174.3,1497.17 174.55,1497.56 174.81,1497.93 175.06,1498.3 175.31,1498.65 175.52,1498.94 175.56,1499 175.81,1499.34 176.07,1499.67 176.32,1499.99 176.57,1500.3 176.82,1500.61 177.07,1500.9 177.18,1501.02 177.33,1501.18 177.58,1501.46 177.83,1501.73 178.08,1501.98 178.2,1502.1 178.33,1502.23 178.59,1502.48 178.84,1502.72 178.84,1502.72 179.09,1502.96 179.34,1503.2 179.59,1503.43 179.85,1503.66 180.1,1503.89 180.35,1504.11 180.51,1504.25 180.6,1504.33 180.86,1504.55 181.11,1504.77 181.36,1504.98 181.61,1505.19 181.86,1505.39 182.12,1505.59 182.17,1505.64 182.37,1505.79 182.62,1505.98 182.87,1506.17 183.12,1506.36 183.38,1506.54 183.63,1506.72 183.84,1506.87 183.88,1506.89 184.13,1507.07 184.38,1507.23 184.64,1507.39 184.89,1507.55 185.14,1507.71 185.39,1507.86 185.5,1507.92 185.65,1508 185.9,1508.14 186.15,1508.28 186.4,1508.41 186.65,1508.54 186.91,1508.66 187.16,1508.78 187.17,1508.78 187.2,1508.8 187.25,1508.82 187.41,1508.9 187.66,1509.01 187.91,1509.12 188.17,1509.24 188.42,1509.35 188.67,1509.46 188.83,1509.53 188.92,1509.57 189.17,1509.68 189.43,1509.79 189.68,1509.9 189.93,1510 190.18,1510.11 190.44,1510.21 190.49,1510.24 190.69,1510.31 190.94,1510.41 191.19,1510.51 191.44,1510.6 191.7,1510.7 191.95,1510.79 192.16,1510.86 192.2,1510.88 193.82,1511.39 195.49,1511.78 197,1512 197.15,1512.01 198.82,1512.16 200.48,1512.29 202.15,1512.41 203.81,1512.52 205.47,1512.61 207.14,1512.69 208.8,1512.77 210.47,1512.83 212.13,1512.88 212.31,1512.89 213.8,1512.93 215.46,1512.97 217.1,1513 217.13,1513 218.79,1513.03 220.45,1513.06 222.12,1513.09 223.78,1513.12 225.45,1513.14 227.11,1513.17 228.78,1513.19 230.44,1513.21 232.11,1513.23 233.77,1513.25 235.43,1513.26 237.1,1513.28 237.36,1513.28 238.76,1513.29 240.43,1513.29 242.09,1513.3 243.76,1513.3 244,1513.3 245.42,1513.3 247.08,1513.3 248.75,1513.3 250.41,1513.3 252.08,1513.3 253.74,1513.3 255.41,1513.3 257.07,1513.3 258.74,1513.3 260.4,1513.3 262.41,1513.3 287.47,1513.3 312.52,1513.3 337.58,1513.3 362.63,1513.3 387.68,1513.3 412.74,1513.3 437.79,1513.3 462.84,1513.3 487.9,1513.3 512.95,1513.3" fill="none" stroke="#000" stroke-width="4.8" stroke-linejoin="round"/>
<path d="M313.97,1426.68H335.87M324.92,1426.68V1550.68M313.97,1550.68H335.87" stroke="#F8766D" stroke-width="4.8" fill="none"/>
<path d="M337.47,1275.24H359.37M348.42,1275.24V1531.43M337.47,1531.43H359.37" stroke="#00BFC4" stroke-width="4.8" fill="none"/>
<circle cx="324.92" cy="1507.19" r="9.8" fill="#F8766D"/>
<circle cx="348.42" cy="1442.54" r="9.8" fill="#00BFC4"/>
<line x1="553.37" y1="1485.04" x2="941.18" y2="1485.04" stroke="#EBEBEB" stroke-width="2.3"/>
<line x1="553.37" y1="1285.52" x2="941.18" y2="1285.52" stroke="#EBEBEB" stroke-width="2.3"/>
<line x1="553.37" y1="1086" x2="941.18" y2="1086" stroke="#EBEBEB" stroke-width="2.3"/>
<line x1="629.76" y1="956.5" x2="629.76" y2="1614.2" stroke="#EBEBEB" stroke-width="2.3"/>
<line x1="747.27" y1="956.5" x2="747.27" y2="1614.2" stroke="#EBEBEB" stroke-width="2.3"/>
<line x1="864.79" y1="956.5" x2="864.79" y2="1614.2" stroke="#EBEBEB" stroke-width="2.3"/>
<line x1="553.37" y1="1584.8" x2="941.18" y2="1584.8" stroke="#EBEBEB" stroke-width="4.6"/>
<line x1="553.37" y1="1385.28" x2="941.18" y2="1385.28" stroke="#EBEBEB" stroke-width="4.6"/>
<line x1="553.37" y1="1185.76" x2="941.18" y2="1185.76" stroke="#EBEBEB" stroke-width="4.6"/>
<line x1="553.37" y1="986.24" x2="941.18" y2="986.24" stroke="#EBEBEB" stroke-width="4.6"/>
<line x1="571" y1="956.5" x2="571" y2="1614.2" stroke="#EBEBEB" stroke-width="4.6"/>
<line x1="688.51" y1="956.5" x2="688.51" y2="1614.2" stroke="#EBEBEB" stroke-width="4.6"/>
<line x1="806.03" y1="956.5" x2="806.03" y2="1614.2" stroke="#EBEBEB" stroke-width="4.6"/>
<line x1="923.55" y1="956.5" x2="923.55" y2="1614.2" stroke="#EBEBEB" stroke-width="4.6"/>
<polygon points="571,1460.2 571.25,1463.68 571.5,1467.09 571.76,1470.42 572.01,1473.68 572.26,1476.86 572.5,1479.8 572.51,1479.95 572.69,1482.16 572.76,1483.01 573.02,1486.02 573.27,1488.97 573.52,1491.81 573.77,1494.51 574,1496.8 574.03,1497.05 574.28,1499.56 574.39,1500.69 574.53,1502.03 574.78,1504.23 575.03,1505.95 575.1,1506.3 575.29,1507.16 575.54,1508.24 575.79,1509.2 576.04,1510.05 576.08,1510.18 576.29,1510.79 576.55,1511.42 576.8,1511.95 577,1512.3 577.05,1512.38 577.3,1512.76 577.55,1513.11 577.78,1513.41 577.81,1513.44 578.06,1513.74 578.31,1514.02 578.56,1514.28 578.82,1514.51 579.07,1514.72 579.32,1514.9 579.47,1515.01 579.57,1515.07 579.82,1515.21 580,1515.3 580.08,1515.34 580.33,1515.45 580.58,1515.56 580.83,1515.66 581.08,1515.75 581.17,1515.78 581.34,1515.84 581.59,1515.92 581.84,1516 582.09,1516.07 582.34,1516.14 582.6,1516.2 582.85,1516.26 582.86,1516.27 583.1,1516.32 583.35,1516.37 583.61,1516.43 583.86,1516.47 584,1516.5 584.11,1516.52 584.36,1516.57 584.56,1516.6 584.61,1516.61 584.87,1516.66 585.12,1516.7 585.37,1516.75 585.62,1516.79 585.87,1516.83 586.13,1516.88 586.25,1516.9 586.38,1516.92 586.63,1516.96 586.88,1517.01 587.13,1517.05 587.39,1517.09 587.64,1517.13 587.89,1517.17 587.95,1517.18 588.14,1517.21 588.39,1517.24 588.65,1517.28 588.9,1517.32 589.15,1517.35 589.4,1517.38 589.64,1517.42 589.66,1517.42 589.91,1517.45 590.16,1517.48 590.41,1517.51 590.66,1517.54 590.92,1517.57 591.17,1517.59 591.34,1517.61 591.42,1517.62 591.67,1517.64 591.92,1517.66 592.18,1517.68 592.43,1517.7 592.68,1517.72 592.93,1517.73 593.03,1517.74 593.18,1517.75 593.44,1517.76 593.69,1517.77 593.94,1517.78 594.19,1517.79 594.45,1517.79 594.7,1517.8 594.73,1517.8 594.95,1517.8 595,1517.8 595.2,1517.8 595.45,1517.8 595.71,1517.8 595.96,1517.8 596.18,1517.8 596.21,1517.8 596.42,1517.8 596.46,1517.8 596.71,1517.8 596.97,1517.8 597.22,1517.8 597.47,1517.8 597.72,1517.8 597.97,1517.81 598.12,1517.81 598.23,1517.81 598.48,1517.81 598.73,1517.81 598.98,1517.81 599.24,1517.81 599.49,1517.81 599.74,1517.81 599.81,1517.81 599.99,1517.81 600.24,1517.81 600.5,1517.81 600.75,1517.81 601,1517.81 601.51,1517.81 603.2,1517.81 604.9,1517.82 606.59,1517.82 608.29,1517.82 609.98,1517.83 611.68,1517.83 613.37,1517.83 615.07,1517.83 616.76,1517.84 618.46,1517.84 620.15,1517.84 621.36,1517.84 621.85,1517.84 623.54,1517.85 625.24,1517.85 626.93,1517.85 628.63,1517.85 630.32,1517.86 632.02,1517.86 633.71,1517.86 635.41,1517.86 637.1,1517.87 638.8,1517.87 640.49,1517.87 642.19,1517.87 643.88,1517.87 645.58,1517.88 646.55,1517.88 647.27,1517.88 648.97,1517.88 650.66,1517.88 652.36,1517.88 654.05,1517.89 655.75,1517.89 657.44,1517.89 659.14,1517.89 660.83,1517.89 662.53,1517.9 664.22,1517.9 665.92,1517.9 667.61,1517.9 669.31,1517.9 671,1517.91 671.73,1517.91 696.91,1517.93 722.09,1517.95 747.27,1517.97 772.46,1517.98 797.64,1517.99 822.82,1517.99 848,1518 873.19,1518 898.37,1518 923.55,1518 923.55,1565.5 898.37,1565.5 873.19,1565.5 848,1565.5 822.82,1565.5 797.64,1565.5 772.46,1565.5 747.27,1565.5 722.09,1565.5 696.91,1565.5 671.73,1565.5 671,1565.5 669.31,1565.5 667.61,1565.5 665.92,1565.5 664.22,1565.5 662.53,1565.5 660.83,1565.5 659.14,1565.5 657.44,1565.5 655.75,1565.5 654.05,1565.5 652.36,1565.5 650.66,1565.5 648.97,1565.5 647.27,1565.5 646.55,1565.5 645.58,1565.5 643.88,1565.5 642.19,1565.5 640.49,1565.5 638.8,1565.5 637.1,1565.5 635.41,1565.5 633.71,1565.5 632.02,1565.5 630.32,1565.5 628.63,1565.5 626.93,1565.5 625.24,1565.5 623.54,1565.5 621.85,1565.5 621.36,1565.5 620.15,1565.5 618.46,1565.5 616.76,1565.5 615.07,1565.5 613.37,1565.5 611.68,1565.5 609.98,1565.5 608.29,1565.5 606.59,1565.5 604.9,1565.5 603.2,1565.5 601.51,1565.5 601,1565.5 600.75,1565.5 600.5,1565.5 600.24,1565.5 599.99,1565.5 599.81,1565.5 599.74,1565.5 599.49,1565.5 599.24,1565.5 598.98,1565.49 598.73,1565.49 598.48,1565.49 598.23,1565.49 598.12,1565.49 597.97,1565.49 597.72,1565.48 597.47,1565.48 597.22,1565.48 596.97,1565.47 596.71,1565.47 596.46,1565.47 596.42,1565.47 596.21,1565.46 596.18,1565.46 595.96,1565.46 595.71,1565.46 595.45,1565.45 595.2,1565.45 594.95,1565.44 594.73,1565.44 594.7,1565.44 594.45,1565.43 594.19,1565.43 593.94,1565.42 593.69,1565.41 593.44,1565.41 593.18,1565.4 593.03,1565.4 592.93,1565.39 592.68,1565.39 592.43,1565.38 592.18,1565.37 591.92,1565.36 591.67,1565.36 591.42,1565.35 591.34,1565.35 591.17,1565.34 590.92,1565.33 590.66,1565.32 590.41,1565.31 590.16,1565.3 589.91,1565.3 589.66,1565.29 589.64,1565.29 589.4,1565.28 589.15,1565.27 588.9,1565.25 588.65,1565.24 588.39,1565.23 588.14,1565.22 587.95,1565.21 587.89,1565.21 587.64,1565.2 587.39,1565.19 587.13,1565.17 586.88,1565.16 586.63,1565.15 586.38,1565.14 586.25,1565.13 586.13,1565.12 585.87,1565.11 585.62,1565.1 585.37,1565.08 585.12,1565.07 584.87,1565.05 584.61,1565.04 584.56,1565.03 584.36,1565.02 584.11,1565.01 584,1565 583.86,1564.99 583.61,1564.97 583.35,1564.94 583.1,1564.91 582.86,1564.87 582.85,1564.87 582.6,1564.83 582.34,1564.78 582.09,1564.72 581.84,1564.66 581.59,1564.6 581.34,1564.52 581.17,1564.47 581.08,1564.45 580.83,1564.36 580.58,1564.27 580.33,1564.17 580.08,1564.07 579.82,1563.96 579.57,1563.85 579.47,1563.8 579.32,1563.72 579.07,1563.6 578.82,1563.46 578.56,1563.32 578.31,1563.17 578.06,1563.02 577.81,1562.86 577.78,1562.84 577.55,1562.69 577.3,1562.52 577.05,1562.34 577,1562.3 576.8,1562.13 576.55,1561.85 576.29,1561.49 576.08,1561.13 576.04,1561.05 575.79,1560.55 575.54,1559.96 575.29,1559.3 575.03,1558.56 574.8,1557.8 574.78,1557.74 574.53,1556.74 574.39,1556.07 574.28,1555.45 574.03,1553.82 573.77,1551.78 573.52,1549.28 573.27,1546.26 573.02,1542.67 572.9,1540.8 572.76,1537.09 572.69,1534.19 572.51,1524.41 572.26,1508.69 572.01,1495.15 572,1494.8 571.76,1485.03 571.5,1475.71 571.25,1467.37 571,1460.2" fill="#333333" fill-opacity="0.2"/>
<polyline points="571,1460.2 571.25,1465.03 571.5,1471.9 571.5,1472.03 571.76,1483.23 572,1493.7 572.01,1493.94 572.26,1500.59 572.51,1506.2 572.69,1509.65 572.76,1510.84 573.02,1514.56 573.1,1515.6 573.27,1517.54 573.52,1520.15 573.77,1522.46 574.03,1524.52 574.28,1526.36 574.39,1527.12 574.53,1528.01 574.78,1529.53 574.9,1530.2 575.03,1530.94 575.29,1532.26 575.54,1533.49 575.79,1534.62 576.04,1535.64 576.08,1535.81 576.29,1536.56 576.55,1537.35 576.6,1537.5 576.8,1538.04 577.05,1538.7 577.3,1539.31 577.55,1539.89 577.78,1540.36 577.81,1540.42 578.06,1540.91 578.31,1541.35 578.56,1541.74 578.82,1542.08 579,1542.3 579.07,1542.37 579.32,1542.64 579.47,1542.8 579.57,1542.9 579.82,1543.14 580.08,1543.36 580.33,1543.57 580.58,1543.77 580.83,1543.96 581.08,1544.13 581.17,1544.18 581.34,1544.29 581.59,1544.43 581.84,1544.56 582.09,1544.68 582.34,1544.78 582.4,1544.8 582.6,1544.87 582.85,1544.96 582.86,1544.97 583.1,1545.05 583.35,1545.13 583.61,1545.21 583.86,1545.29 584.11,1545.36 584.36,1545.43 584.56,1545.49 584.61,1545.5 584.87,1545.57 585.12,1545.63 585.37,1545.69 585.62,1545.75 585.87,1545.81 586.13,1545.86 586.25,1545.89 586.38,1545.91 586.63,1545.96 586.88,1546 587.13,1546.05 587.39,1546.09 587.64,1546.13 587.89,1546.17 587.95,1546.17 588.14,1546.2 588.39,1546.23 588.65,1546.26 588.9,1546.29 589,1546.3 589.15,1546.32 589.4,1546.34 589.64,1546.36 589.66,1546.37 589.91,1546.39 590.16,1546.41 590.41,1546.44 590.66,1546.46 590.92,1546.48 591.17,1546.5 591.34,1546.52 591.42,1546.52 591.67,1546.54 591.92,1546.56 592.18,1546.58 592.43,1546.6 592.68,1546.62 592.93,1546.63 593.03,1546.64 593.18,1546.65 593.44,1546.67 593.69,1546.68 593.94,1546.7 594.19,1546.71 594.45,1546.73 594.7,1546.74 594.73,1546.75 594.95,1546.76 595.2,1546.77 595.45,1546.78 595.71,1546.8 595.96,1546.81 596.18,1546.82 596.21,1546.82 596.42,1546.83 596.46,1546.83 596.71,1546.84 596.97,1546.85 597.22,1546.86 597.47,1546.87 597.72,1546.88 597.97,1546.89 598.12,1546.89 598.23,1546.89 598.4,1546.9 598.48,1546.9 598.73,1546.91 598.98,1546.92 599.24,1546.93 599.49,1546.93 599.74,1546.94 599.81,1546.94 599.99,1546.95 600.24,1546.96 600.5,1546.96 600.75,1546.97 601,1546.98 601.51,1546.99 603.2,1547.04 604.9,1547.08 606.59,1547.12 608.29,1547.16 609.98,1547.19 611.68,1547.22 613.37,1547.25 615.07,1547.27 616.76,1547.28 618.46,1547.29 620.15,1547.3 620.3,1547.3 621.36,1547.3 621.85,1547.3 623.54,1547.3 625.24,1547.3 626.93,1547.31 628.63,1547.31 630.32,1547.31 632.02,1547.31 633.71,1547.31 635.41,1547.31 637.1,1547.31 638.8,1547.32 640.49,1547.32 642.19,1547.32 643.88,1547.32 645.58,1547.32 646.55,1547.32 647.27,1547.32 648.97,1547.32 650.66,1547.32 652.36,1547.33 654.05,1547.33 655.75,1547.33 657.44,1547.33 659.14,1547.33 660.83,1547.33 662.53,1547.33 664.22,1547.33 665.92,1547.34 667.61,1547.34 669.31,1547.34 671,1547.34 671.73,1547.34 696.91,1547.35 722.09,1547.37 747.27,1547.38 772.46,1547.38 797.64,1547.39 822.82,1547.39 848,1547.4 873.19,1547.4 898.37,1547.4 923.55,1547.4" fill="none" stroke="#000" stroke-width="4.8" stroke-linejoin="round"/>
<path d="M724.57,1426.48H746.47M735.52,1426.48V1550.28M724.57,1550.28H746.47" stroke="#F8766D" stroke-width="4.8" fill="none"/>
<path d="M748.07,1461.9H769.97M759.02,1461.9V1584.8M748.07,1584.8H769.97" stroke="#00BFC4" stroke-width="4.8" fill="none"/>
<circle cx="735.52" cy="1507.29" r="9.8" fill="#F8766D"/>
<circle cx="759.02" cy="1584.8" r="9.8" fill="#00BFC4"/>
<line x1="963.97" y1="1485.04" x2="1351.78" y2="1485.04" stroke="#EBEBEB" stroke-width="2.3"/>
<line x1="963.97" y1="1285.52" x2="1351.78" y2="1285.52" stroke="#EBEBEB" stroke-width="2.3"/>
<line x1="963.97" y1="1086" x2="1351.78" y2="1086" stroke="#EBEBEB" stroke-width="2.3"/>
<line x1="1040.36" y1="956.5" x2="1040.36" y2="1614.2" stroke="#EBEBEB" stroke-width="2.3"/>
<line x1="1157.87" y1="956.5" x2="1157.87" y2="1614.2" stroke="#EBEBEB" stroke-width="2.3"/>
<line x1="1275.39" y1="956.5" x2="1275.39" y2="1614.2" stroke="#EBEBEB" stroke-width="2.3"/>
<line x1="963.97" y1="1584.8" x2="1351.78" y2="1584.8" stroke="#EBEBEB" stroke-width="4.6"/>
<line x1="963.97" y1="1385.28" x2="1351.78" y2="1385.28" stroke="#EBEBEB" stroke-width="4.6"/>
<line x1="963.97" y1="1185.76" x2="1351.78" y2="1185.76" stroke="#EBEBEB" stroke-width="4.6"/>
<line x1="963.97" y1="986.24" x2="1351.78" y2="986.24" stroke="#EBEBEB" stroke-width="4.6"/>
<line x1="981.6" y1="956.5" x2="981.6" y2="1614.2" stroke="#EBEBEB" stroke-width="4.6"/>
<line x1="1099.12" y1="956.5" x2="1099.12" y2="1614.2" stroke="#EBEBEB" stroke-width="4.6"/>
<line x1="1216.63" y1="956.5" x2="1216.63" y2="1614.2" stroke="#EBEBEB" stroke-width="4.6"/>
<line x1="1334.14" y1="956.5" x2="1334.14" y2="1614.2" stroke="#EBEBEB" stroke-width="4.6"/>
<polygon points="981.6,1460 981.85,1459.99 982.1,1459.97 982.36,1459.93 982.61,1459.89 982.86,1459.83 983.11,1459.77 983.29,1459.71 983.36,1459.69 983.62,1459.62 983.87,1459.54 984,1459.5 984.12,1459.46 984.37,1459.34 984.63,1459.18 984.88,1459 984.99,1458.92 985.13,1458.81 985.38,1458.61 985.63,1458.41 985.89,1458.21 986.14,1458.04 986.39,1457.89 986.6,1457.8 986.64,1457.78 986.68,1457.77 986.89,1457.69 987.15,1457.59 987.4,1457.5 987.65,1457.41 987.9,1457.32 988.15,1457.24 988.38,1457.16 988.41,1457.15 988.66,1457.07 988.91,1456.99 989.16,1456.92 989.42,1456.84 989.67,1456.77 989.92,1456.7 990.07,1456.66 990.17,1456.63 990.42,1456.57 990.68,1456.51 990.93,1456.45 991.18,1456.39 991.43,1456.34 991.68,1456.29 991.77,1456.27 991.94,1456.24 992.19,1456.2 992.44,1456.16 992.69,1456.13 992.94,1456.09 993.2,1456.07 993.45,1456.04 993.46,1456.04 993.7,1456.02 993.95,1456 994,1456 994.21,1455.99 994.46,1455.97 994.71,1455.96 994.96,1455.95 995.16,1455.94 995.21,1455.93 995.47,1455.92 995.72,1455.91 995.97,1455.89 996.22,1455.88 996.47,1455.87 996.73,1455.86 996.85,1455.85 996.98,1455.84 997.23,1455.83 997.48,1455.82 997.73,1455.81 997.99,1455.8 998.24,1455.79 998.49,1455.78 998.55,1455.77 998.74,1455.77 998.99,1455.76 999.25,1455.75 999.5,1455.74 999.75,1455.73 1000,1455.72 1000.24,1455.71 1000.26,1455.71 1000.51,1455.7 1000.76,1455.69 1001.01,1455.68 1001.26,1455.67 1001.52,1455.66 1001.77,1455.66 1001.94,1455.65 1002.02,1455.65 1002.27,1455.64 1002.52,1455.63 1002.78,1455.63 1003.03,1455.62 1003.28,1455.61 1003.53,1455.6 1003.63,1455.6 1003.78,1455.6 1004.04,1455.59 1004.29,1455.59 1004.54,1455.58 1004.79,1455.57 1005.05,1455.57 1005.3,1455.56 1005.33,1455.56 1005.55,1455.56 1005.8,1455.55 1006.05,1455.55 1006.31,1455.55 1006.56,1455.54 1006.78,1455.54 1006.81,1455.54 1007.02,1455.53 1007.06,1455.53 1007.31,1455.53 1007.57,1455.53 1007.82,1455.52 1008.07,1455.52 1008.32,1455.52 1008.57,1455.51 1008.72,1455.51 1008.83,1455.51 1009.08,1455.51 1009.33,1455.51 1009.58,1455.51 1009.84,1455.5 1010.09,1455.5 1010.34,1455.5 1010.41,1455.5 1010.59,1455.5 1010.84,1455.5 1011.1,1455.5 1011.35,1455.5 1011.6,1455.5 1012.11,1455.5 1013.8,1455.5 1015.5,1455.5 1017.19,1455.5 1018.89,1455.5 1020.58,1455.5 1022.28,1455.5 1023.97,1455.5 1025.67,1455.5 1027.36,1455.5 1029.06,1455.5 1030.75,1455.5 1031.96,1455.5 1032.45,1455.5 1034.14,1455.5 1035.84,1455.5 1037.53,1455.5 1039.23,1455.5 1040.92,1455.5 1042.62,1455.5 1044.31,1455.5 1046.01,1455.5 1047.7,1455.5 1049.4,1455.5 1051.09,1455.5 1052.79,1455.5 1054.48,1455.5 1056.18,1455.5 1057.15,1455.5 1057.87,1455.5 1059.57,1455.5 1061.26,1455.5 1062.96,1455.5 1064.65,1455.5 1066.35,1455.5 1068.04,1455.5 1069.74,1455.5 1071.43,1455.5 1073.13,1455.5 1074.82,1455.5 1076.52,1455.5 1078.21,1455.5 1079.91,1455.5 1081.6,1455.5 1082.33,1455.5 1107.51,1455.5 1132.69,1455.5 1157.88,1455.5 1183.06,1455.5 1208.24,1455.5 1233.42,1455.5 1258.6,1455.5 1283.79,1455.5 1308.97,1455.5 1334.15,1455.5 1334.15,1532.6 1308.97,1532.6 1283.79,1532.6 1258.6,1532.6 1233.42,1532.59 1208.24,1532.59 1183.06,1532.58 1157.88,1532.58 1132.69,1532.57 1107.51,1532.55 1082.33,1532.54 1081.6,1532.54 1079.91,1532.54 1078.21,1532.54 1076.52,1532.54 1074.82,1532.53 1073.13,1532.53 1071.43,1532.53 1069.74,1532.53 1068.04,1532.53 1066.35,1532.53 1064.65,1532.53 1062.96,1532.53 1061.26,1532.52 1059.57,1532.52 1057.87,1532.52 1057.15,1532.52 1056.18,1532.52 1054.48,1532.52 1052.79,1532.52 1051.09,1532.52 1049.4,1532.52 1047.7,1532.51 1046.01,1532.51 1044.31,1532.51 1042.62,1532.51 1040.92,1532.51 1039.23,1532.51 1037.53,1532.51 1035.84,1532.5 1034.14,1532.5 1032.45,1532.5 1031.96,1532.5 1031.6,1532.5 1030.75,1532.5 1029.06,1532.47 1027.36,1532.43 1025.67,1532.37 1023.97,1532.29 1022.28,1532.2 1020.58,1532.08 1018.89,1531.95 1017.19,1531.8 1015.5,1531.64 1013.8,1531.46 1012.11,1531.26 1011.6,1531.2 1011.35,1531.17 1011.1,1531.14 1010.84,1531.11 1010.59,1531.08 1010.41,1531.05 1010.34,1531.04 1010.09,1531.01 1010,1531 1009.84,1530.98 1009.58,1530.94 1009.33,1530.9 1009.08,1530.85 1008.83,1530.8 1008.72,1530.78 1008.57,1530.75 1008.32,1530.69 1008.07,1530.63 1007.82,1530.56 1007.57,1530.49 1007.31,1530.42 1007.06,1530.34 1007.02,1530.33 1006.81,1530.26 1006.78,1530.25 1006.56,1530.17 1006.31,1530.08 1006.05,1529.99 1005.8,1529.89 1005.55,1529.79 1005.33,1529.7 1005.3,1529.69 1005.05,1529.58 1004.79,1529.47 1004.54,1529.35 1004.29,1529.24 1004.04,1529.12 1003.78,1528.99 1003.63,1528.92 1003.53,1528.86 1003.28,1528.73 1003.03,1528.6 1002.78,1528.46 1002.52,1528.32 1002.27,1528.18 1002.02,1528.03 1001.94,1527.98 1001.77,1527.88 1001.52,1527.73 1001.26,1527.58 1001.01,1527.42 1000.76,1527.26 1000.51,1527.09 1000.26,1526.93 1000.24,1526.92 1000,1526.76 999.75,1526.59 999.5,1526.41 999.25,1526.24 998.99,1526.06 998.74,1525.88 998.55,1525.74 998.49,1525.69 998.24,1525.51 997.99,1525.32 997.73,1525.13 997.48,1524.93 997.23,1524.74 996.98,1524.54 996.85,1524.44 996.73,1524.34 996.47,1524.14 996.3,1524 996.22,1523.94 995.97,1523.73 995.72,1523.51 995.47,1523.28 995.21,1523.04 995.16,1522.99 994.96,1522.79 994.71,1522.53 994.46,1522.26 994.21,1521.97 993.95,1521.68 993.7,1521.37 993.46,1521.06 993.45,1521.04 993.2,1520.7 992.94,1520.35 992.69,1519.98 992.44,1519.59 992.19,1519.19 991.94,1518.77 991.77,1518.48 991.68,1518.33 991.43,1517.88 991.18,1517.4 990.93,1516.91 990.68,1516.39 990.42,1515.85 990.17,1515.29 990.07,1515.07 989.92,1514.71 989.67,1514.11 989.5,1513.7 989.42,1513.48 989.16,1512.71 988.91,1511.8 988.66,1510.74 988.41,1509.56 988.38,1509.43 988.15,1508.27 987.9,1506.88 987.65,1505.4 987.4,1503.85 987.15,1502.23 986.89,1500.57 986.68,1499.16 986.64,1498.87 986.39,1497.15 986.14,1495.41 985.89,1493.68 985.63,1491.96 985.38,1490.27 985.13,1488.63 985,1487.8 984.99,1487.74 984.88,1487.03 984.63,1485.44 984.37,1483.84 984.12,1482.2 983.87,1480.51 983.62,1478.74 983.36,1476.88 983.29,1476.35 983.11,1474.9 983.1,1474.8 982.86,1472.77 982.61,1470.48 982.36,1468.04 982.1,1465.47 981.85,1462.78 981.6,1460" fill="#333333" fill-opacity="0.2"/>
<polyline points="981.6,1460 981.85,1461.77 982.1,1463.48 982.36,1465.12 982.61,1466.7 982.86,1468.22 983.11,1469.66 983.29,1470.65 983.36,1471.02 983.62,1472.31 983.8,1473.2 983.87,1473.53 984.12,1474.71 984.37,1475.86 984.63,1476.96 984.88,1477.99 984.99,1478.41 985.13,1478.91 985.38,1479.72 985.6,1480.3 985.63,1480.38 985.89,1480.96 986.14,1481.51 986.39,1482.02 986.64,1482.51 986.68,1482.59 986.89,1482.97 987.15,1483.4 987.4,1483.81 987.65,1484.19 987.9,1484.56 988.15,1484.9 988.38,1485.2 988.41,1485.23 988.66,1485.54 988.91,1485.84 989.16,1486.13 989.42,1486.41 989.5,1486.5 989.67,1486.68 989.92,1486.94 990.07,1487.1 990.17,1487.19 990.42,1487.44 990.68,1487.68 990.93,1487.9 991.18,1488.13 991.43,1488.34 991.68,1488.54 991.77,1488.61 991.94,1488.74 992.19,1488.92 992.44,1489.1 992.69,1489.27 992.94,1489.43 993.2,1489.58 993.45,1489.72 993.46,1489.73 993.6,1489.8 993.7,1489.85 993.95,1489.98 994.21,1490.1 994.46,1490.23 994.71,1490.35 994.96,1490.46 995.16,1490.55 995.21,1490.58 995.47,1490.69 995.72,1490.8 995.97,1490.9 996.22,1491.01 996.47,1491.11 996.73,1491.2 996.85,1491.25 996.98,1491.3 997.23,1491.39 997.48,1491.48 997.73,1491.57 997.99,1491.65 998.24,1491.73 998.49,1491.81 998.55,1491.83 998.74,1491.89 998.99,1491.96 999.25,1492.03 999.5,1492.1 999.75,1492.16 1000,1492.22 1000.24,1492.28 1000.26,1492.28 1000.51,1492.34 1000.76,1492.39 1000.8,1492.4 1001.01,1492.44 1001.26,1492.49 1001.52,1492.55 1001.77,1492.6 1001.94,1492.63 1002.02,1492.65 1002.27,1492.7 1002.52,1492.75 1002.78,1492.8 1003.03,1492.85 1003.28,1492.9 1003.53,1492.94 1003.63,1492.96 1003.78,1492.99 1004.04,1493.04 1004.29,1493.09 1004.54,1493.13 1004.79,1493.18 1005.05,1493.22 1005.3,1493.27 1005.33,1493.27 1005.55,1493.31 1005.8,1493.36 1006.05,1493.4 1006.31,1493.44 1006.56,1493.49 1006.78,1493.52 1006.81,1493.53 1007.02,1493.56 1007.06,1493.57 1007.31,1493.61 1007.57,1493.65 1007.82,1493.69 1008.07,1493.73 1008.32,1493.76 1008.57,1493.8 1008.72,1493.82 1008.83,1493.84 1009.08,1493.87 1009.33,1493.91 1009.58,1493.94 1009.84,1493.97 1010.09,1494.01 1010.34,1494.04 1010.41,1494.05 1010.59,1494.07 1010.84,1494.1 1011.1,1494.13 1011.35,1494.15 1011.6,1494.18 1012.11,1494.23 1013.8,1494.37 1015.5,1494.47 1016.7,1494.5 1017.19,1494.51 1018.89,1494.53 1020.58,1494.56 1022.28,1494.58 1023.97,1494.6 1025.67,1494.62 1027.36,1494.64 1029.06,1494.65 1030.75,1494.66 1031.96,1494.67 1032.45,1494.67 1034.14,1494.68 1035.84,1494.69 1037.53,1494.69 1039.23,1494.7 1040.92,1494.7 1041.6,1494.7 1042.62,1494.7 1044.31,1494.7 1046.01,1494.7 1047.7,1494.7 1049.4,1494.7 1051.09,1494.7 1052.79,1494.7 1054.48,1494.7 1056.18,1494.7 1057.15,1494.7 1057.87,1494.7 1059.57,1494.7 1061.26,1494.7 1062.96,1494.7 1064.65,1494.7 1066.35,1494.7 1068.04,1494.7 1069.74,1494.7 1071.43,1494.7 1073.13,1494.7 1074.82,1494.7 1076.52,1494.7 1078.21,1494.7 1079.91,1494.7 1081.6,1494.7 1082.33,1494.7 1107.51,1494.7 1132.69,1494.7 1157.88,1494.7 1183.06,1494.7 1208.24,1494.7 1233.42,1494.7 1258.6,1494.7 1283.79,1494.7 1308.97,1494.7 1334.15,1494.7" fill="none" stroke="#000" stroke-width="4.8" stroke-linejoin="round"/>
<path d="M1135.17,1499.7H1157.07M1146.12,1499.7V1581.11M1135.17,1581.11H1157.07" stroke="#F8766D" stroke-width="4.8" fill="none"/>
<path d="M1158.67,1275.24H1180.57M1169.62,1275.24V1531.43M1158.67,1531.43H1180.57" stroke="#00BFC4" stroke-width="4.8" fill="none"/>
<circle cx="1146.12" cy="1562.65" r="9.8" fill="#F8766D"/>
<circle cx="1169.62" cy="1442.54" r="9.8" fill="#00BFC4"/>
<line x1="1374.57" y1="1485.04" x2="1762.38" y2="1485.04" stroke="#EBEBEB" stroke-width="2.3"/>
<line x1="1374.57" y1="1285.52" x2="1762.38" y2="1285.52" stroke="#EBEBEB" stroke-width="2.3"/>
<line x1="1374.57" y1="1086" x2="1762.38" y2="1086" stroke="#EBEBEB" stroke-width="2.3"/>
<line x1="1450.96" y1="956.5" x2="1450.96" y2="1614.2" stroke="#EBEBEB" stroke-width="2.3"/>
<line x1="1568.47" y1="956.5" x2="1568.47" y2="1614.2" stroke="#EBEBEB" stroke-width="2.3"/>
<line x1="1685.99" y1="956.5" x2="1685.99" y2="1614.2" stroke="#EBEBEB" stroke-width="2.3"/>
<line x1="1374.57" y1="1584.8" x2="1762.38" y2="1584.8" stroke="#EBEBEB" stroke-width="4.6"/>
<line x1="1374.57" y1="1385.28" x2="1762.38" y2="1385.28" stroke="#EBEBEB" stroke-width="4.6"/>
<line x1="1374.57" y1="1185.76" x2="1762.38" y2="1185.76" stroke="#EBEBEB" stroke-width="4.6"/>
<line x1="1374.57" y1="986.24" x2="1762.38" y2="986.24" stroke="#EBEBEB" stroke-width="4.6"/>
<line x1="1392.2" y1="956.5" x2="1392.2" y2="1614.2" stroke="#EBEBEB" stroke-width="4.6"/>
<line x1="1509.72" y1="956.5" x2="1509.72" y2="1614.2" stroke="#EBEBEB" stroke-width="4.6"/>
<line x1="1627.23" y1="956.5" x2="1627.23" y2="1614.2" stroke="#EBEBEB" stroke-width="4.6"/>
<line x1="1744.75" y1="956.5" x2="1744.75" y2="1614.2" stroke="#EBEBEB" stroke-width="4.6"/>
<polygon points="1392.2,1459.7 1392.45,1455.56 1392.7,1450.76 1392.96,1445.39 1393.21,1439.53 1393.4,1434.8 1393.46,1433.22 1393.71,1425.62 1393.89,1419.48 1393.96,1417.06 1394.22,1408.44 1394.47,1400.66 1394.5,1399.8 1394.72,1394.34 1394.97,1388.31 1395,1387.6 1395.23,1380.68 1395.48,1371.72 1395.59,1367.73 1395.73,1363.08 1395.98,1356.4 1396.1,1354.4 1396.23,1352.72 1396.49,1349.82 1396.74,1347.28 1396.99,1345.05 1397.24,1343.12 1397.28,1342.82 1397.49,1341.46 1397.75,1340.05 1398,1338.86 1398.25,1337.87 1398.3,1337.7 1398.5,1337.02 1398.75,1336.2 1398.98,1335.5 1399.01,1335.42 1399.26,1334.67 1399.51,1333.96 1399.76,1333.29 1400.02,1332.65 1400.27,1332.04 1400.52,1331.47 1400.67,1331.13 1400.77,1330.93 1401.02,1330.41 1401.28,1329.93 1401.53,1329.48 1401.78,1329.06 1402.03,1328.67 1402.28,1328.31 1402.37,1328.19 1402.54,1327.97 1402.79,1327.66 1403.04,1327.38 1403.29,1327.12 1403.54,1326.89 1403.8,1326.68 1403.9,1326.6 1404.05,1326.49 1404.06,1326.48 1404.3,1326.31 1404.55,1326.13 1404.81,1325.95 1405.06,1325.78 1405.31,1325.61 1405.56,1325.44 1405.76,1325.32 1405.81,1325.28 1406.07,1325.12 1406.32,1324.97 1406.57,1324.82 1406.82,1324.68 1407.07,1324.54 1407.33,1324.41 1407.45,1324.34 1407.58,1324.28 1407.83,1324.15 1408.08,1324.03 1408.33,1323.91 1408.59,1323.8 1408.84,1323.7 1409.09,1323.6 1409.15,1323.58 1409.34,1323.5 1409.59,1323.42 1409.85,1323.33 1410.1,1323.25 1410.35,1323.18 1410.6,1323.11 1410.84,1323.06 1410.86,1323.05 1411.11,1323 1411.36,1322.95 1411.61,1322.91 1411.86,1322.87 1412.12,1322.84 1412.37,1322.82 1412.54,1322.81 1412.62,1322.8 1412.7,1322.8 1412.87,1322.79 1413.12,1322.78 1413.38,1322.77 1413.63,1322.76 1413.88,1322.75 1414.13,1322.74 1414.23,1322.74 1414.38,1322.73 1414.64,1322.72 1414.89,1322.71 1415.14,1322.7 1415.39,1322.69 1415.65,1322.68 1415.9,1322.67 1415.93,1322.67 1416.15,1322.66 1416.4,1322.65 1416.65,1322.65 1416.91,1322.64 1417.16,1322.63 1417.38,1322.62 1417.41,1322.62 1417.62,1322.61 1417.66,1322.61 1417.91,1322.61 1418.17,1322.6 1418.42,1322.59 1418.67,1322.58 1418.92,1322.58 1419.17,1322.57 1419.32,1322.57 1419.43,1322.56 1419.68,1322.56 1419.93,1322.55 1420.18,1322.54 1420.44,1322.54 1420.69,1322.53 1420.94,1322.52 1421.01,1322.52 1421.19,1322.52 1421.44,1322.51 1421.7,1322.51 1421.95,1322.5 1422.2,1322.5 1422.71,1322.49 1424.4,1322.46 1426.1,1322.43 1427.79,1322.42 1429.49,1322.41 1431.18,1322.4 1432.2,1322.4 1432.88,1322.4 1434.57,1322.4 1436.27,1322.4 1437.96,1322.4 1439.66,1322.4 1441.35,1322.4 1442.56,1322.4 1443.05,1322.4 1444.74,1322.4 1446.44,1322.4 1448.13,1322.4 1449.83,1322.4 1451.52,1322.4 1453.22,1322.4 1454.91,1322.4 1456.61,1322.4 1458.3,1322.4 1460,1322.4 1461.69,1322.4 1463.39,1322.4 1465.08,1322.4 1466.78,1322.4 1467.75,1322.4 1468.47,1322.4 1470.17,1322.4 1471.86,1322.4 1473.56,1322.4 1475.25,1322.4 1476.95,1322.4 1478.64,1322.4 1480.34,1322.4 1482.03,1322.4 1483.73,1322.4 1485.42,1322.4 1487.12,1322.4 1488.81,1322.4 1490.51,1322.4 1492.2,1322.4 1492.93,1322.4 1518.11,1322.4 1543.29,1322.4 1568.48,1322.4 1593.66,1322.4 1618.84,1322.4 1644.02,1322.4 1669.2,1322.4 1694.39,1322.4 1719.57,1322.4 1744.75,1322.4 1744.75,1494 1719.57,1494 1694.39,1494 1669.2,1494 1644.02,1494 1618.84,1494 1593.66,1494 1568.48,1494 1543.29,1494 1518.11,1494 1492.93,1494 1492.2,1494 1490.51,1494 1488.81,1494 1487.12,1494 1485.42,1494 1483.73,1494 1482.03,1494 1480.34,1494 1478.64,1494 1476.95,1494 1475.25,1494 1473.56,1494 1471.86,1494 1470.17,1494 1468.47,1494 1467.75,1494 1466.78,1494 1465.08,1494 1463.39,1494 1461.69,1494 1460,1494 1458.3,1494 1456.61,1494 1454.91,1494 1453.22,1494 1452.2,1494 1451.52,1494 1449.83,1494 1448.13,1493.99 1446.44,1493.99 1444.74,1493.98 1443.05,1493.97 1442.56,1493.97 1441.35,1493.96 1439.66,1493.94 1437.96,1493.93 1436.27,1493.91 1434.57,1493.88 1432.88,1493.86 1431.18,1493.83 1429.49,1493.8 1429.4,1493.8 1427.79,1493.71 1426.1,1493.52 1424.4,1493.24 1422.71,1492.89 1422.2,1492.78 1421.95,1492.73 1421.7,1492.67 1421.44,1492.61 1421.19,1492.56 1421.01,1492.52 1420.94,1492.5 1420.69,1492.44 1420.44,1492.38 1420.18,1492.33 1419.93,1492.27 1419.68,1492.21 1419.43,1492.15 1419.32,1492.13 1419.17,1492.1 1418.92,1492.04 1418.67,1491.98 1418.42,1491.93 1418.3,1491.9 1418.17,1491.87 1417.91,1491.82 1417.66,1491.76 1417.62,1491.75 1417.41,1491.71 1417.38,1491.7 1417.16,1491.65 1416.91,1491.6 1416.65,1491.54 1416.4,1491.49 1416.15,1491.43 1415.93,1491.39 1415.9,1491.38 1415.65,1491.32 1415.39,1491.27 1415.14,1491.21 1414.89,1491.15 1414.64,1491.09 1414.38,1491.03 1414.23,1491 1414.13,1490.97 1413.88,1490.91 1413.63,1490.85 1413.38,1490.78 1413.12,1490.72 1412.87,1490.65 1412.62,1490.58 1412.54,1490.56 1412.37,1490.51 1412.12,1490.44 1411.86,1490.36 1411.61,1490.28 1411.36,1490.21 1411.11,1490.12 1410.86,1490.04 1410.84,1490.04 1410.6,1489.95 1410.35,1489.87 1410.1,1489.77 1409.85,1489.68 1409.59,1489.58 1409.34,1489.48 1409.15,1489.4 1409.09,1489.38 1408.84,1489.27 1408.59,1489.16 1408.33,1489.05 1408.08,1488.94 1407.83,1488.82 1407.58,1488.69 1407.45,1488.63 1407.33,1488.57 1407.2,1488.5 1407.07,1488.43 1406.82,1488.28 1406.57,1488.12 1406.32,1487.93 1406.07,1487.73 1405.81,1487.52 1405.76,1487.47 1405.56,1487.28 1405.31,1487.04 1405.06,1486.78 1404.81,1486.5 1404.55,1486.21 1404.3,1485.9 1404.06,1485.61 1404.05,1485.59 1403.8,1485.25 1403.54,1484.91 1403.29,1484.56 1403.04,1484.19 1402.79,1483.81 1402.54,1483.43 1402.37,1483.16 1402.28,1483.03 1402.03,1482.62 1401.78,1482.2 1401.6,1481.9 1401.53,1481.77 1401.28,1481.3 1401.02,1480.76 1400.77,1480.17 1400.67,1479.93 1400.52,1479.53 1400.27,1478.84 1400.02,1478.12 1399.76,1477.36 1399.51,1476.57 1399.26,1475.75 1399.01,1474.91 1398.98,1474.82 1398.75,1474.06 1398.5,1473.19 1398.25,1472.32 1398,1471.45 1397.75,1470.58 1397.49,1469.71 1397.28,1469.01 1397.24,1468.86 1396.99,1468.03 1396.74,1467.22 1396.49,1466.44 1396.23,1465.68 1396.1,1465.3 1395.98,1464.95 1395.73,1464.13 1395.59,1463.65 1395.48,1463.25 1395.23,1462.34 1394.97,1461.45 1394.72,1460.62 1394.47,1459.9 1394.22,1459.33 1393.96,1458.95 1393.89,1458.88 1393.71,1458.8 1393.7,1458.8 1393.46,1458.8 1393.21,1458.83 1392.96,1458.91 1392.7,1459.06 1392.45,1459.32 1392.2,1459.7" fill="#333333" fill-opacity="0.2"/>
<polyline points="1392.2,1459.7 1392.45,1455.05 1392.7,1450.45 1392.96,1445.91 1393.21,1441.42 1393.3,1439.8 1393.46,1436.82 1393.71,1431.82 1393.89,1428.27 1393.96,1426.99 1394.22,1422.96 1394.4,1420.9 1394.47,1420.31 1394.72,1418.32 1394.97,1416.69 1395.23,1415.51 1395.4,1415 1395.48,1414.84 1395.59,1414.62 1395.73,1414.37 1395.98,1413.96 1396.23,1413.62 1396.49,1413.34 1396.74,1413.12 1396.99,1412.98 1397.2,1412.9 1397.24,1412.89 1397.28,1412.88 1397.49,1412.83 1397.75,1412.78 1398,1412.73 1398.25,1412.69 1398.5,1412.65 1398.75,1412.63 1398.98,1412.61 1399.01,1412.61 1399.26,1412.6 1399.4,1412.6 1399.51,1412.6 1399.76,1412.61 1400.02,1412.63 1400.27,1412.67 1400.52,1412.71 1400.67,1412.74 1400.77,1412.76 1401.02,1412.81 1401.28,1412.87 1401.53,1412.93 1401.78,1413 1402.03,1413.07 1402.28,1413.14 1402.37,1413.17 1402.54,1413.21 1402.79,1413.28 1403.04,1413.35 1403.29,1413.41 1403.54,1413.47 1403.8,1413.53 1404.05,1413.58 1404.06,1413.58 1404.2,1413.6 1404.3,1413.62 1404.55,1413.66 1404.81,1413.7 1405.06,1413.74 1405.31,1413.78 1405.56,1413.82 1405.76,1413.85 1405.81,1413.86 1406.07,1413.9 1406.32,1413.94 1406.57,1413.98 1406.82,1414.02 1407.07,1414.06 1407.33,1414.1 1407.45,1414.12 1407.58,1414.14 1407.83,1414.18 1408.08,1414.21 1408.33,1414.25 1408.59,1414.28 1408.84,1414.32 1409.09,1414.35 1409.15,1414.36 1409.34,1414.38 1409.59,1414.41 1409.85,1414.44 1410.1,1414.46 1410.35,1414.49 1410.6,1414.51 1410.84,1414.53 1410.86,1414.53 1411.11,1414.55 1411.36,1414.56 1411.61,1414.57 1411.86,1414.58 1412.12,1414.59 1412.37,1414.6 1412.54,1414.6 1412.62,1414.6 1412.7,1414.6 1412.87,1414.6 1413.12,1414.6 1413.38,1414.6 1413.63,1414.6 1413.88,1414.6 1414.13,1414.6 1414.23,1414.6 1414.38,1414.59 1414.64,1414.59 1414.89,1414.59 1415.14,1414.59 1415.39,1414.59 1415.65,1414.58 1415.9,1414.58 1415.93,1414.58 1416.15,1414.58 1416.4,1414.57 1416.65,1414.57 1416.91,1414.57 1417.16,1414.56 1417.38,1414.56 1417.41,1414.56 1417.62,1414.56 1417.66,1414.56 1417.91,1414.55 1418.17,1414.55 1418.42,1414.55 1418.67,1414.54 1418.92,1414.54 1419.17,1414.53 1419.32,1414.53 1419.43,1414.53 1419.68,1414.52 1419.93,1414.52 1420.18,1414.52 1420.44,1414.51 1420.69,1414.51 1420.94,1414.5 1421.01,1414.5 1421.19,1414.5 1421.44,1414.49 1421.7,1414.49 1421.95,1414.48 1422.2,1414.48 1422.71,1414.47 1424.4,1414.44 1426.1,1414.42 1427.79,1414.41 1429.4,1414.4 1429.49,1414.4 1431.18,1414.4 1432.88,1414.41 1434.57,1414.43 1436.27,1414.44 1437.96,1414.46 1439.66,1414.49 1441.35,1414.51 1442.56,1414.52 1443.05,1414.53 1444.74,1414.55 1446.44,1414.57 1448.13,1414.58 1449.83,1414.59 1451.52,1414.6 1452.2,1414.6 1453.22,1414.6 1454.91,1414.6 1456.61,1414.6 1458.3,1414.6 1460,1414.6 1461.69,1414.6 1463.39,1414.6 1465.08,1414.6 1466.78,1414.6 1467.75,1414.6 1468.47,1414.6 1470.17,1414.6 1471.86,1414.6 1473.56,1414.6 1475.25,1414.6 1476.95,1414.6 1478.64,1414.6 1480.34,1414.6 1482.03,1414.6 1483.73,1414.6 1485.42,1414.6 1487.12,1414.6 1488.81,1414.6 1490.51,1414.6 1492.2,1414.6 1492.93,1414.6 1518.11,1414.6 1543.29,1414.6 1568.48,1414.6 1593.66,1414.6 1618.84,1414.6 1644.02,1414.6 1669.2,1414.6 1694.39,1414.6 1719.57,1414.6 1744.75,1414.6" fill="none" stroke="#000" stroke-width="4.8" stroke-linejoin="round"/>
<path d="M1545.77,1322.43H1567.67M1556.72,1322.43V1485.54M1545.77,1485.54H1567.67" stroke="#F8766D" stroke-width="4.8" fill="none"/>
<path d="M1569.27,1308.96H1591.17M1580.22,1308.96V1547.39M1569.27,1547.39H1591.17" stroke="#00BFC4" stroke-width="4.8" fill="none"/>
<circle cx="1556.72" cy="1418.9" r="9.8" fill="#F8766D"/>
<circle cx="1580.22" cy="1471.07" r="9.8" fill="#00BFC4"/>
<text x="336.68" y="27.2" text-anchor="middle" class="s">Homeless</text>
<text x="336.68" y="66" text-anchor="middle" class="s">No Displacement</text>
<text x="336.68" y="104.8" text-anchor="middle" class="s">No Violence</text>
<text x="747.27" y="27.2" text-anchor="middle" class="s">Homeless</text>
<text x="747.27" y="66" text-anchor="middle" class="s">Recent Displacement</text>
<text x="747.27" y="104.8" text-anchor="middle" class="s">No Violence</text>
<text x="1157.88" y="27.2" text-anchor="middle" class="s">Homeless</text>
<text x="1157.88" y="66" text-anchor="middle" class="s">No Displacement</text>
<text x="1157.88" y="104.8" text-anchor="middle" class="s">Recent Violence</text>
<text x="1568.48" y="27.2" text-anchor="middle" class="s">Homeless</text>
<text x="1568.48" y="66" text-anchor="middle" class="s">Recent Violence</text>
<text x="1568.48" y="104.8" text-anchor="middle" class="s">Recent Displacement</text>
<text x="336.68" y="856.8" text-anchor="middle" class="s">Housed</text>
<text x="336.68" y="895.6" text-anchor="middle" class="s">No Displacement</text>
<text x="336.68" y="934.4" text-anchor="middle" class="s">No Violence</text>
<text x="747.27" y="856.8" text-anchor="middle" class="s">Housed</text>
<text x="747.27" y="895.6" text-anchor="middle" class="s">Recent Displacement</text>
<text x="747.27" y="934.4" text-anchor="middle" class="s">No Violence</text>
<text x="1157.88" y="856.8" text-anchor="middle" class="s">Housed</text>
<text x="1157.88" y="895.6" text-anchor="middle" class="s">No Displacement</text>
<text x="1157.88" y="934.4" text-anchor="middle" class="s">Recent Violence</text>
<text x="1568.48" y="856.8" text-anchor="middle" class="s">Housed</text>
<text x="1568.48" y="895.6" text-anchor="middle" class="s">Recent Violence</text>
<text x="1568.48" y="934.4" text-anchor="middle" class="s">Recent Policing</text>
<text transform="translate(122.2,769.1) scale(1,1.065)" text-anchor="end" class="a">0.0</text>
<text transform="translate(122.2,569.58) scale(1,1.065)" text-anchor="end" class="a">0.2</text>
<text transform="translate(122.2,370.06) scale(1,1.065)" text-anchor="end" class="a">0.4</text>
<text transform="translate(122.2,170.54) scale(1,1.065)" text-anchor="end" class="a">0.6</text>
<text transform="translate(122.2,1598.7) scale(1,1.065)" text-anchor="end" class="a">0.0</text>
<text transform="translate(122.2,1399.18) scale(1,1.065)" text-anchor="end" class="a">0.2</text>
<text transform="translate(122.2,1199.66) scale(1,1.065)" text-anchor="end" class="a">0.4</text>
<text transform="translate(122.2,1000.14) scale(1,1.065)" text-anchor="end" class="a">0.6</text>
<text transform="translate(160.4,1662.3) scale(1,1.065)" text-anchor="middle" class="a">0</text>
<text transform="translate(277.92,1662.3) scale(1,1.065)" text-anchor="middle" class="a">5</text>
<text transform="translate(395.43,1662.3) scale(1,1.065)" text-anchor="middle" class="a">10</text>
<text transform="translate(512.95,1662.3) scale(1,1.065)" text-anchor="middle" class="a">15</text>
<text transform="translate(571,1662.3) scale(1,1.065)" text-anchor="middle" class="a">0</text>
<text transform="translate(688.51,1662.3) scale(1,1.065)" text-anchor="middle" class="a">5</text>
<text transform="translate(806.03,1662.3) scale(1,1.065)" text-anchor="middle" class="a">10</text>
<text transform="translate(923.55,1662.3) scale(1,1.065)" text-anchor="middle" class="a">15</text>
<text transform="translate(981.6,1662.3) scale(1,1.065)" text-anchor="middle" class="a">0</text>
<text transform="translate(1099.12,1662.3) scale(1,1.065)" text-anchor="middle" class="a">5</text>
<text transform="translate(1216.63,1662.3) scale(1,1.065)" text-anchor="middle" class="a">10</text>
<text transform="translate(1334.14,1662.3) scale(1,1.065)" text-anchor="middle" class="a">15</text>
<text transform="translate(1392.2,1662.3) scale(1,1.065)" text-anchor="middle" class="a">0</text>
<text transform="translate(1509.72,1662.3) scale(1,1.065)" text-anchor="middle" class="a">5</text>
<text transform="translate(1627.23,1662.3) scale(1,1.065)" text-anchor="middle" class="a">10</text>
<text transform="translate(1744.75,1662.3) scale(1,1.065)" text-anchor="middle" class="a">15</text>
<text x="952.5" y="1713" text-anchor="middle" class="t">Time</text>
<text transform="translate(33.1,870.8) rotate(-90)" x="0" y="0" text-anchor="middle" class="t">Proportion of population in compartment</text>
</svg>
</body></html>
